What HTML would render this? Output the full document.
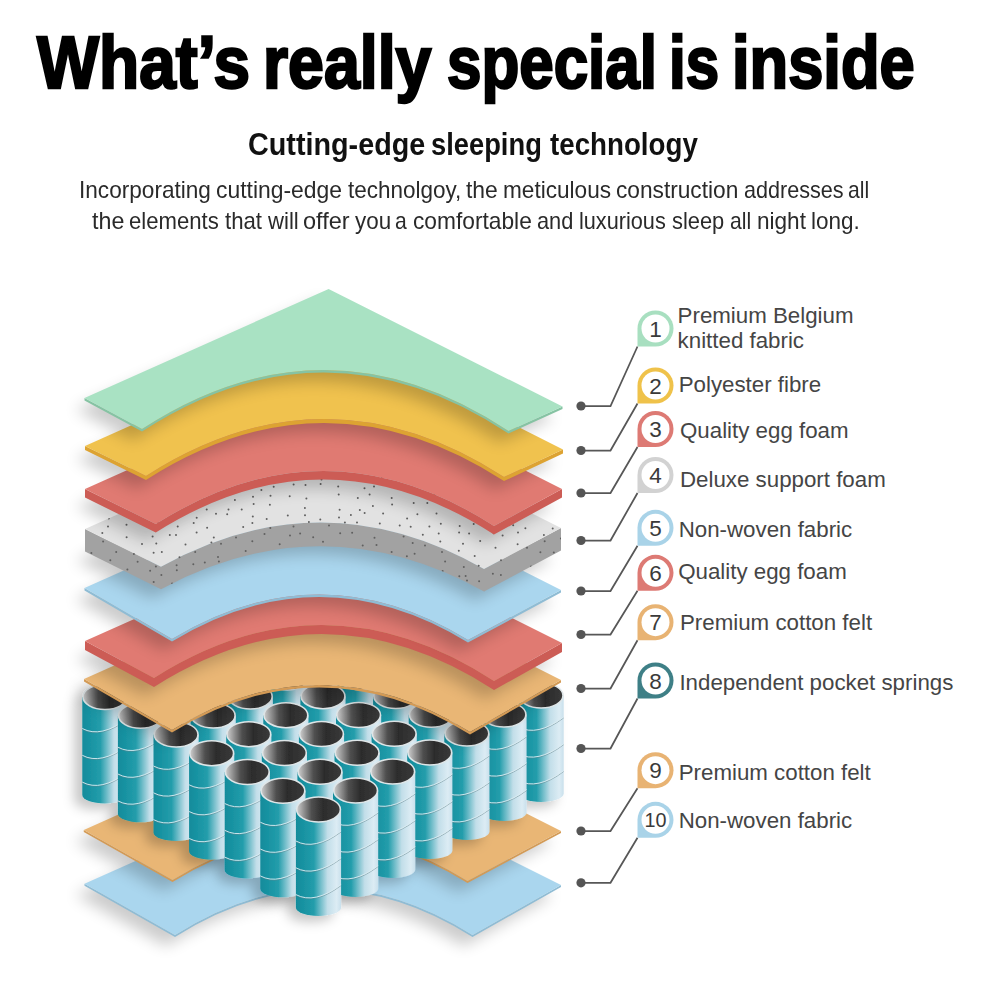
<!DOCTYPE html>
<html><head><meta charset="utf-8">
<style>
html,body{margin:0;padding:0;background:#fff;}
body{width:1000px;height:1000px;position:relative;overflow:hidden;font-family:"Liberation Sans",sans-serif;}
.t{position:absolute;white-space:nowrap;transform-origin:0 0;line-height:1;}
.tw{top:26.35px;font-size:73.5px;font-weight:bold;color:#000;-webkit-text-stroke:2.5px #000;}
.sw{top:128.2px;font-size:32px;font-weight:bold;color:#111;}
.bw{font-size:24px;color:#2a2a2a;}
</style></head><body>
<div class="t tw" style="left:36.91px;transform:scaleX(0.8945)">What’s</div><div class="t tw" style="left:263.31px;transform:scaleX(0.8769)">really</div><div class="t tw" style="left:446.64px;transform:scaleX(0.8423)">special</div><div class="t tw" style="left:669.17px;transform:scaleX(0.8163)">is</div><div class="t tw" style="left:731.99px;transform:scaleX(0.8602)">inside</div>
<div class="t sw" style="left:248.07px;transform:scaleX(0.8985)">Cutting-edge</div><div class="t sw" style="left:431.12px;transform:scaleX(0.8538)">sleeping</div><div class="t sw" style="left:550.00px;transform:scaleX(0.8660)">technology</div>
<div class="t bw" style="left:79.12px;top:177.9px;transform:scaleX(0.9416)">Incorporating</div><div class="t bw" style="left:216.05px;top:177.9px;transform:scaleX(0.9538)">cutting-edge</div><div class="t bw" style="left:347.50px;top:177.9px;transform:scaleX(0.9370)">technolgoy,</div><div class="t bw" style="left:466.00px;top:177.9px;transform:scaleX(0.9531)">the</div><div class="t bw" style="left:502.62px;top:177.9px;transform:scaleX(0.9420)">meticulous</div><div class="t bw" style="left:616.06px;top:177.9px;transform:scaleX(0.9449)">construction</div><div class="t bw" style="left:743.60px;top:177.9px;transform:scaleX(0.8991)">addresses</div><div class="t bw" style="left:848.44px;top:177.9px;transform:scaleX(0.8800)">all</div><div class="t bw" style="left:91.50px;top:209.2px;transform:scaleX(0.9688)">the</div><div class="t bw" style="left:128.58px;top:209.2px;transform:scaleX(0.9219)">elements</div><div class="t bw" style="left:225.00px;top:209.2px;transform:scaleX(0.9250)">that</div><div class="t bw" style="left:267.50px;top:209.2px;transform:scaleX(0.9219)">will</div><div class="t bw" style="left:302.52px;top:209.2px;transform:scaleX(0.9783)">offer</div><div class="t bw" style="left:354.50px;top:209.2px;transform:scaleX(0.9324)">you</div><div class="t bw" style="left:394.65px;top:209.2px;transform:scaleX(0.8800)">a</div><div class="t bw" style="left:413.05px;top:209.2px;transform:scaleX(0.9472)">comfortable</div><div class="t bw" style="left:537.09px;top:209.2px;transform:scaleX(0.9079)">and</div><div class="t bw" style="left:578.69px;top:209.2px;transform:scaleX(0.9032)">luxurious</div><div class="t bw" style="left:671.59px;top:209.2px;transform:scaleX(0.9107)">sleep</div><div class="t bw" style="left:730.44px;top:209.2px;transform:scaleX(0.8800)">all</div><div class="t bw" style="left:757.12px;top:209.2px;transform:scaleX(0.9400)">night</div><div class="t bw" style="left:811.12px;top:209.2px;transform:scaleX(0.9375)">long.</div>
<svg width="1000" height="1000" viewBox="0 0 1000 1000" style="position:absolute;left:0;top:0">
<defs>
 <filter id="sh" x="-20%" y="-20%" width="140%" height="160%">
  <feGaussianBlur stdDeviation="7.5"/><feOffset dx="-9" dy="9"/>
 </filter>
 <filter id="shs" x="-20%" y="-20%" width="140%" height="140%">
  <feDropShadow dx="-8" dy="6" stdDeviation="6" flood-color="#000" flood-opacity="0.22"/>
 </filter>
 <linearGradient id="gBody" x1="0" x2="1" y1="0" y2="0">
  <stop offset="0" stop-color="#118b9b"/>
  <stop offset="0.4" stop-color="#239dab"/>
  <stop offset="0.7" stop-color="#c2dee9"/>
  <stop offset="0.9" stop-color="#dcecf4"/>
  <stop offset="1" stop-color="#c9e0ec"/>
 </linearGradient>
 <linearGradient id="gIn" x1="0" x2="1" y1="0" y2="0">
  <stop offset="0" stop-color="#d0d0d0"/>
  <stop offset="0.14" stop-color="#9a9a9a"/>
  <stop offset="0.34" stop-color="#505050"/>
  <stop offset="0.6" stop-color="#2c2c2c"/>
  <stop offset="1" stop-color="#3a3a3a"/>
 </linearGradient>
 <clipPath id="grayclip">
  <path d="M85.0,529.0 L338.0,416.0 L561.0,528.0 L484.0,569.0 Q322.5,477.1 161.0,566.7 Z"/>
  <path d="M85.0,551.5 L338.0,438.5 L561.0,550.5 L484.0,591.5 Q322.5,499.6 161.0,589.2 Z"/>
  <path d="M85.0,529.0 L85.0,551.5 L161.0,589.2 Q322.5,502.4 484.0,591.5 L561.0,550.5 L561.0,528.0 L484.0,569.0 Q322.5,477.1 161.0,566.7 Z"/>
 </clipPath>
</defs>
<path d="M84.5,885.8 L335.4,773.7 L561.0,887.0 L472.5,937.0 Q323.8,843.0 175.0,937.0 Z" fill="#000" opacity="0.2" filter="url(#sh)"/>
<path d="M84.5,883.8 L84.5,885.8 L175.0,937.0 Q323.8,843.0 472.5,937.0 L561.0,887.0 L561.0,885.0 L472.5,935.0 Q323.8,841.0 175.0,935.0 Z" fill="#8fbcd4"/>
<path d="M84.5,883.8 L335.4,771.7 L561.0,885.0 L472.5,935.0 Q323.8,841.0 175.0,935.0 Z" fill="#aad6ee"/>
<path d="M83.8,832.0 L335.4,719.6 L561.0,833.0 L467.5,883.0 Q320.0,791.5 172.5,882.0 Z" fill="#000" opacity="0.2" filter="url(#sh)"/>
<path d="M83.8,830.0 L83.8,832.0 L172.5,882.0 Q320.0,791.5 467.5,883.0 L561.0,833.0 L561.0,831.0 L467.5,881.0 Q320.0,789.5 172.5,880.0 Z" fill="#d39a55"/>
<path d="M83.8,830.0 L335.4,717.6 L561.0,831.0 L467.5,881.0 Q320.0,789.5 172.5,880.0 Z" fill="#e9b675"/>
<g filter="url(#shs)"><path d="M304.9,583.0 L304.9,681.0 A22.6,8.5 0 0 0 350.1,681.0 L350.1,583.0 Z" fill="url(#gBody)"/><path d="M304.9,615.4 Q323.5,625.4 350.1,605.4" fill="none" stroke="#5f7f88" stroke-opacity="0.5" stroke-width="1"/><path d="M304.9,614.5 Q323.5,624.5 350.1,604.5" fill="none" stroke="#dcecf2" stroke-opacity="0.9" stroke-width="1"/><path d="M304.9,642.2 Q323.5,652.2 350.1,632.2" fill="none" stroke="#5f7f88" stroke-opacity="0.5" stroke-width="1"/><path d="M304.9,641.3 Q323.5,651.3 350.1,631.3" fill="none" stroke="#dcecf2" stroke-opacity="0.9" stroke-width="1"/><path d="M304.9,669.0 Q323.5,679.0 350.1,659.0" fill="none" stroke="#5f7f88" stroke-opacity="0.5" stroke-width="1"/><path d="M304.9,668.1 Q323.5,678.1 350.1,658.1" fill="none" stroke="#dcecf2" stroke-opacity="0.9" stroke-width="1"/><ellipse cx="327.5" cy="583.0" rx="21.900000000000002" ry="12.5" fill="url(#gIn)" stroke="#dfe6e8" stroke-width="1.6"/>
<path d="M340.5,601.8 L340.5,699.8 A22.6,8.5 0 0 0 385.7,699.8 L385.7,601.8 Z" fill="url(#gBody)"/><path d="M340.5,634.1 Q359.1,644.1 385.7,624.1" fill="none" stroke="#5f7f88" stroke-opacity="0.5" stroke-width="1"/><path d="M340.5,633.2 Q359.1,643.2 385.7,623.2" fill="none" stroke="#dcecf2" stroke-opacity="0.9" stroke-width="1"/><path d="M340.5,660.9 Q359.1,670.9 385.7,650.9" fill="none" stroke="#5f7f88" stroke-opacity="0.5" stroke-width="1"/><path d="M340.5,660.0 Q359.1,670.0 385.7,650.0" fill="none" stroke="#dcecf2" stroke-opacity="0.9" stroke-width="1"/><path d="M340.5,687.8 Q359.1,697.8 385.7,677.8" fill="none" stroke="#5f7f88" stroke-opacity="0.5" stroke-width="1"/><path d="M340.5,686.9 Q359.1,696.9 385.7,676.9" fill="none" stroke="#dcecf2" stroke-opacity="0.9" stroke-width="1"/><ellipse cx="363.1" cy="601.8" rx="21.900000000000002" ry="12.5" fill="url(#gIn)" stroke="#dfe6e8" stroke-width="1.6"/>
<path d="M267.8,602.0 L267.8,700.0 A22.6,8.5 0 0 0 313.0,700.0 L313.0,602.0 Z" fill="url(#gBody)"/><path d="M267.8,634.4 Q286.4,644.4 313.0,624.4" fill="none" stroke="#5f7f88" stroke-opacity="0.5" stroke-width="1"/><path d="M267.8,633.5 Q286.4,643.5 313.0,623.5" fill="none" stroke="#dcecf2" stroke-opacity="0.9" stroke-width="1"/><path d="M267.8,661.2 Q286.4,671.2 313.0,651.2" fill="none" stroke="#5f7f88" stroke-opacity="0.5" stroke-width="1"/><path d="M267.8,660.3 Q286.4,670.3 313.0,650.3" fill="none" stroke="#dcecf2" stroke-opacity="0.9" stroke-width="1"/><path d="M267.8,688.0 Q286.4,698.0 313.0,678.0" fill="none" stroke="#5f7f88" stroke-opacity="0.5" stroke-width="1"/><path d="M267.8,687.1 Q286.4,697.1 313.0,677.1" fill="none" stroke="#dcecf2" stroke-opacity="0.9" stroke-width="1"/><ellipse cx="290.4" cy="602.0" rx="21.900000000000002" ry="12.5" fill="url(#gIn)" stroke="#dfe6e8" stroke-width="1.6"/>
<path d="M376.1,620.5 L376.1,718.5 A22.6,8.5 0 0 0 421.3,718.5 L421.3,620.5 Z" fill="url(#gBody)"/><path d="M376.1,652.9 Q394.7,662.9 421.3,642.9" fill="none" stroke="#5f7f88" stroke-opacity="0.5" stroke-width="1"/><path d="M376.1,652.0 Q394.7,662.0 421.3,642.0" fill="none" stroke="#dcecf2" stroke-opacity="0.9" stroke-width="1"/><path d="M376.1,679.7 Q394.7,689.7 421.3,669.7" fill="none" stroke="#5f7f88" stroke-opacity="0.5" stroke-width="1"/><path d="M376.1,678.8 Q394.7,688.8 421.3,668.8" fill="none" stroke="#dcecf2" stroke-opacity="0.9" stroke-width="1"/><path d="M376.1,706.5 Q394.7,716.5 421.3,696.5" fill="none" stroke="#5f7f88" stroke-opacity="0.5" stroke-width="1"/><path d="M376.1,705.6 Q394.7,715.6 421.3,695.6" fill="none" stroke="#dcecf2" stroke-opacity="0.9" stroke-width="1"/><ellipse cx="398.7" cy="620.5" rx="21.900000000000002" ry="12.5" fill="url(#gIn)" stroke="#dfe6e8" stroke-width="1.6"/>
<path d="M303.4,620.8 L303.4,718.8 A22.6,8.5 0 0 0 348.6,718.8 L348.6,620.8 Z" fill="url(#gBody)"/><path d="M303.4,653.1 Q322.0,663.1 348.6,643.1" fill="none" stroke="#5f7f88" stroke-opacity="0.5" stroke-width="1"/><path d="M303.4,652.2 Q322.0,662.2 348.6,642.2" fill="none" stroke="#dcecf2" stroke-opacity="0.9" stroke-width="1"/><path d="M303.4,679.9 Q322.0,689.9 348.6,669.9" fill="none" stroke="#5f7f88" stroke-opacity="0.5" stroke-width="1"/><path d="M303.4,679.0 Q322.0,689.0 348.6,669.0" fill="none" stroke="#dcecf2" stroke-opacity="0.9" stroke-width="1"/><path d="M303.4,706.8 Q322.0,716.8 348.6,696.8" fill="none" stroke="#5f7f88" stroke-opacity="0.5" stroke-width="1"/><path d="M303.4,705.9 Q322.0,715.9 348.6,695.9" fill="none" stroke="#dcecf2" stroke-opacity="0.9" stroke-width="1"/><ellipse cx="326.0" cy="620.8" rx="21.900000000000002" ry="12.5" fill="url(#gIn)" stroke="#dfe6e8" stroke-width="1.6"/>
<path d="M230.7,621.0 L230.7,719.0 A22.6,8.5 0 0 0 275.9,719.0 L275.9,621.0 Z" fill="url(#gBody)"/><path d="M230.7,653.4 Q249.3,663.4 275.9,643.4" fill="none" stroke="#5f7f88" stroke-opacity="0.5" stroke-width="1"/><path d="M230.7,652.5 Q249.3,662.5 275.9,642.5" fill="none" stroke="#dcecf2" stroke-opacity="0.9" stroke-width="1"/><path d="M230.7,680.2 Q249.3,690.2 275.9,670.2" fill="none" stroke="#5f7f88" stroke-opacity="0.5" stroke-width="1"/><path d="M230.7,679.3 Q249.3,689.3 275.9,669.3" fill="none" stroke="#dcecf2" stroke-opacity="0.9" stroke-width="1"/><path d="M230.7,707.0 Q249.3,717.0 275.9,697.0" fill="none" stroke="#5f7f88" stroke-opacity="0.5" stroke-width="1"/><path d="M230.7,706.1 Q249.3,716.1 275.9,696.1" fill="none" stroke="#dcecf2" stroke-opacity="0.9" stroke-width="1"/><ellipse cx="253.3" cy="621.0" rx="21.900000000000002" ry="12.5" fill="url(#gIn)" stroke="#dfe6e8" stroke-width="1.6"/>
<path d="M411.7,639.2 L411.7,737.2 A22.6,8.5 0 0 0 456.9,737.2 L456.9,639.2 Z" fill="url(#gBody)"/><path d="M411.7,671.6 Q430.3,681.6 456.9,661.6" fill="none" stroke="#5f7f88" stroke-opacity="0.5" stroke-width="1"/><path d="M411.7,670.8 Q430.3,680.8 456.9,660.8" fill="none" stroke="#dcecf2" stroke-opacity="0.9" stroke-width="1"/><path d="M411.7,698.4 Q430.3,708.4 456.9,688.4" fill="none" stroke="#5f7f88" stroke-opacity="0.5" stroke-width="1"/><path d="M411.7,697.5 Q430.3,707.5 456.9,687.5" fill="none" stroke="#dcecf2" stroke-opacity="0.9" stroke-width="1"/><path d="M411.7,725.2 Q430.3,735.2 456.9,715.2" fill="none" stroke="#5f7f88" stroke-opacity="0.5" stroke-width="1"/><path d="M411.7,724.4 Q430.3,734.4 456.9,714.4" fill="none" stroke="#dcecf2" stroke-opacity="0.9" stroke-width="1"/><ellipse cx="434.3" cy="639.2" rx="21.900000000000002" ry="12.5" fill="url(#gIn)" stroke="#dfe6e8" stroke-width="1.6"/>
<path d="M339.0,639.5 L339.0,737.5 A22.6,8.5 0 0 0 384.2,737.5 L384.2,639.5 Z" fill="url(#gBody)"/><path d="M339.0,671.9 Q357.6,681.9 384.2,661.9" fill="none" stroke="#5f7f88" stroke-opacity="0.5" stroke-width="1"/><path d="M339.0,671.0 Q357.6,681.0 384.2,661.0" fill="none" stroke="#dcecf2" stroke-opacity="0.9" stroke-width="1"/><path d="M339.0,698.7 Q357.6,708.7 384.2,688.7" fill="none" stroke="#5f7f88" stroke-opacity="0.5" stroke-width="1"/><path d="M339.0,697.8 Q357.6,707.8 384.2,687.8" fill="none" stroke="#dcecf2" stroke-opacity="0.9" stroke-width="1"/><path d="M339.0,725.5 Q357.6,735.5 384.2,715.5" fill="none" stroke="#5f7f88" stroke-opacity="0.5" stroke-width="1"/><path d="M339.0,724.6 Q357.6,734.6 384.2,714.6" fill="none" stroke="#dcecf2" stroke-opacity="0.9" stroke-width="1"/><ellipse cx="361.6" cy="639.5" rx="21.900000000000002" ry="12.5" fill="url(#gIn)" stroke="#dfe6e8" stroke-width="1.6"/>
<path d="M266.3,639.8 L266.3,737.8 A22.6,8.5 0 0 0 311.5,737.8 L311.5,639.8 Z" fill="url(#gBody)"/><path d="M266.3,672.1 Q284.9,682.1 311.5,662.1" fill="none" stroke="#5f7f88" stroke-opacity="0.5" stroke-width="1"/><path d="M266.3,671.2 Q284.9,681.2 311.5,661.2" fill="none" stroke="#dcecf2" stroke-opacity="0.9" stroke-width="1"/><path d="M266.3,698.9 Q284.9,708.9 311.5,688.9" fill="none" stroke="#5f7f88" stroke-opacity="0.5" stroke-width="1"/><path d="M266.3,698.0 Q284.9,708.0 311.5,688.0" fill="none" stroke="#dcecf2" stroke-opacity="0.9" stroke-width="1"/><path d="M266.3,725.8 Q284.9,735.8 311.5,715.8" fill="none" stroke="#5f7f88" stroke-opacity="0.5" stroke-width="1"/><path d="M266.3,724.9 Q284.9,734.9 311.5,714.9" fill="none" stroke="#dcecf2" stroke-opacity="0.9" stroke-width="1"/><ellipse cx="288.9" cy="639.8" rx="21.900000000000002" ry="12.5" fill="url(#gIn)" stroke="#dfe6e8" stroke-width="1.6"/>
<path d="M193.6,640.0 L193.6,738.0 A22.6,8.5 0 0 0 238.8,738.0 L238.8,640.0 Z" fill="url(#gBody)"/><path d="M193.6,672.4 Q212.2,682.4 238.8,662.4" fill="none" stroke="#5f7f88" stroke-opacity="0.5" stroke-width="1"/><path d="M193.6,671.5 Q212.2,681.5 238.8,661.5" fill="none" stroke="#dcecf2" stroke-opacity="0.9" stroke-width="1"/><path d="M193.6,699.2 Q212.2,709.2 238.8,689.2" fill="none" stroke="#5f7f88" stroke-opacity="0.5" stroke-width="1"/><path d="M193.6,698.3 Q212.2,708.3 238.8,688.3" fill="none" stroke="#dcecf2" stroke-opacity="0.9" stroke-width="1"/><path d="M193.6,726.0 Q212.2,736.0 238.8,716.0" fill="none" stroke="#5f7f88" stroke-opacity="0.5" stroke-width="1"/><path d="M193.6,725.1 Q212.2,735.1 238.8,715.1" fill="none" stroke="#dcecf2" stroke-opacity="0.9" stroke-width="1"/><ellipse cx="216.2" cy="640.0" rx="21.900000000000002" ry="12.5" fill="url(#gIn)" stroke="#dfe6e8" stroke-width="1.6"/>
<path d="M447.3,658.0 L447.3,756.0 A22.6,8.5 0 0 0 492.5,756.0 L492.5,658.0 Z" fill="url(#gBody)"/><path d="M447.3,690.4 Q465.9,700.4 492.5,680.4" fill="none" stroke="#5f7f88" stroke-opacity="0.5" stroke-width="1"/><path d="M447.3,689.5 Q465.9,699.5 492.5,679.5" fill="none" stroke="#dcecf2" stroke-opacity="0.9" stroke-width="1"/><path d="M447.3,717.2 Q465.9,727.2 492.5,707.2" fill="none" stroke="#5f7f88" stroke-opacity="0.5" stroke-width="1"/><path d="M447.3,716.3 Q465.9,726.3 492.5,706.3" fill="none" stroke="#dcecf2" stroke-opacity="0.9" stroke-width="1"/><path d="M447.3,744.0 Q465.9,754.0 492.5,734.0" fill="none" stroke="#5f7f88" stroke-opacity="0.5" stroke-width="1"/><path d="M447.3,743.1 Q465.9,753.1 492.5,733.1" fill="none" stroke="#dcecf2" stroke-opacity="0.9" stroke-width="1"/><ellipse cx="469.9" cy="658.0" rx="21.900000000000002" ry="12.5" fill="url(#gIn)" stroke="#dfe6e8" stroke-width="1.6"/>
<path d="M374.6,658.2 L374.6,756.2 A22.6,8.5 0 0 0 419.8,756.2 L419.8,658.2 Z" fill="url(#gBody)"/><path d="M374.6,690.6 Q393.2,700.6 419.8,680.6" fill="none" stroke="#5f7f88" stroke-opacity="0.5" stroke-width="1"/><path d="M374.6,689.8 Q393.2,699.8 419.8,679.8" fill="none" stroke="#dcecf2" stroke-opacity="0.9" stroke-width="1"/><path d="M374.6,717.4 Q393.2,727.4 419.8,707.4" fill="none" stroke="#5f7f88" stroke-opacity="0.5" stroke-width="1"/><path d="M374.6,716.5 Q393.2,726.5 419.8,706.5" fill="none" stroke="#dcecf2" stroke-opacity="0.9" stroke-width="1"/><path d="M374.6,744.2 Q393.2,754.2 419.8,734.2" fill="none" stroke="#5f7f88" stroke-opacity="0.5" stroke-width="1"/><path d="M374.6,743.4 Q393.2,753.4 419.8,733.4" fill="none" stroke="#dcecf2" stroke-opacity="0.9" stroke-width="1"/><ellipse cx="397.2" cy="658.2" rx="21.900000000000002" ry="12.5" fill="url(#gIn)" stroke="#dfe6e8" stroke-width="1.6"/>
<path d="M301.9,658.5 L301.9,756.5 A22.6,8.5 0 0 0 347.1,756.5 L347.1,658.5 Z" fill="url(#gBody)"/><path d="M301.9,690.9 Q320.5,700.9 347.1,680.9" fill="none" stroke="#5f7f88" stroke-opacity="0.5" stroke-width="1"/><path d="M301.9,690.0 Q320.5,700.0 347.1,680.0" fill="none" stroke="#dcecf2" stroke-opacity="0.9" stroke-width="1"/><path d="M301.9,717.7 Q320.5,727.7 347.1,707.7" fill="none" stroke="#5f7f88" stroke-opacity="0.5" stroke-width="1"/><path d="M301.9,716.8 Q320.5,726.8 347.1,706.8" fill="none" stroke="#dcecf2" stroke-opacity="0.9" stroke-width="1"/><path d="M301.9,744.5 Q320.5,754.5 347.1,734.5" fill="none" stroke="#5f7f88" stroke-opacity="0.5" stroke-width="1"/><path d="M301.9,743.6 Q320.5,753.6 347.1,733.6" fill="none" stroke="#dcecf2" stroke-opacity="0.9" stroke-width="1"/><ellipse cx="324.5" cy="658.5" rx="21.900000000000002" ry="12.5" fill="url(#gIn)" stroke="#dfe6e8" stroke-width="1.6"/>
<path d="M229.2,658.8 L229.2,756.8 A22.6,8.5 0 0 0 274.4,756.8 L274.4,658.8 Z" fill="url(#gBody)"/><path d="M229.2,691.1 Q247.8,701.1 274.4,681.1" fill="none" stroke="#5f7f88" stroke-opacity="0.5" stroke-width="1"/><path d="M229.2,690.2 Q247.8,700.2 274.4,680.2" fill="none" stroke="#dcecf2" stroke-opacity="0.9" stroke-width="1"/><path d="M229.2,717.9 Q247.8,727.9 274.4,707.9" fill="none" stroke="#5f7f88" stroke-opacity="0.5" stroke-width="1"/><path d="M229.2,717.0 Q247.8,727.0 274.4,707.0" fill="none" stroke="#dcecf2" stroke-opacity="0.9" stroke-width="1"/><path d="M229.2,744.8 Q247.8,754.8 274.4,734.8" fill="none" stroke="#5f7f88" stroke-opacity="0.5" stroke-width="1"/><path d="M229.2,743.9 Q247.8,753.9 274.4,733.9" fill="none" stroke="#dcecf2" stroke-opacity="0.9" stroke-width="1"/><ellipse cx="251.8" cy="658.8" rx="21.900000000000002" ry="12.5" fill="url(#gIn)" stroke="#dfe6e8" stroke-width="1.6"/>
<path d="M156.5,659.0 L156.5,757.0 A22.6,8.5 0 0 0 201.7,757.0 L201.7,659.0 Z" fill="url(#gBody)"/><path d="M156.5,691.4 Q175.1,701.4 201.7,681.4" fill="none" stroke="#5f7f88" stroke-opacity="0.5" stroke-width="1"/><path d="M156.5,690.5 Q175.1,700.5 201.7,680.5" fill="none" stroke="#dcecf2" stroke-opacity="0.9" stroke-width="1"/><path d="M156.5,718.2 Q175.1,728.2 201.7,708.2" fill="none" stroke="#5f7f88" stroke-opacity="0.5" stroke-width="1"/><path d="M156.5,717.3 Q175.1,727.3 201.7,707.3" fill="none" stroke="#dcecf2" stroke-opacity="0.9" stroke-width="1"/><path d="M156.5,745.0 Q175.1,755.0 201.7,735.0" fill="none" stroke="#5f7f88" stroke-opacity="0.5" stroke-width="1"/><path d="M156.5,744.1 Q175.1,754.1 201.7,734.1" fill="none" stroke="#dcecf2" stroke-opacity="0.9" stroke-width="1"/><ellipse cx="179.1" cy="659.0" rx="21.900000000000002" ry="12.5" fill="url(#gIn)" stroke="#dfe6e8" stroke-width="1.6"/>
<path d="M482.9,676.8 L482.9,774.8 A22.6,8.5 0 0 0 528.1,774.8 L528.1,676.8 Z" fill="url(#gBody)"/><path d="M482.9,709.1 Q501.5,719.1 528.1,699.1" fill="none" stroke="#5f7f88" stroke-opacity="0.5" stroke-width="1"/><path d="M482.9,708.2 Q501.5,718.2 528.1,698.2" fill="none" stroke="#dcecf2" stroke-opacity="0.9" stroke-width="1"/><path d="M482.9,735.9 Q501.5,745.9 528.1,725.9" fill="none" stroke="#5f7f88" stroke-opacity="0.5" stroke-width="1"/><path d="M482.9,735.0 Q501.5,745.0 528.1,725.0" fill="none" stroke="#dcecf2" stroke-opacity="0.9" stroke-width="1"/><path d="M482.9,762.8 Q501.5,772.8 528.1,752.8" fill="none" stroke="#5f7f88" stroke-opacity="0.5" stroke-width="1"/><path d="M482.9,761.9 Q501.5,771.9 528.1,751.9" fill="none" stroke="#dcecf2" stroke-opacity="0.9" stroke-width="1"/><ellipse cx="505.5" cy="676.8" rx="21.900000000000002" ry="12.5" fill="url(#gIn)" stroke="#dfe6e8" stroke-width="1.6"/>
<path d="M410.2,677.0 L410.2,775.0 A22.6,8.5 0 0 0 455.4,775.0 L455.4,677.0 Z" fill="url(#gBody)"/><path d="M410.2,709.4 Q428.8,719.4 455.4,699.4" fill="none" stroke="#5f7f88" stroke-opacity="0.5" stroke-width="1"/><path d="M410.2,708.5 Q428.8,718.5 455.4,698.5" fill="none" stroke="#dcecf2" stroke-opacity="0.9" stroke-width="1"/><path d="M410.2,736.2 Q428.8,746.2 455.4,726.2" fill="none" stroke="#5f7f88" stroke-opacity="0.5" stroke-width="1"/><path d="M410.2,735.3 Q428.8,745.3 455.4,725.3" fill="none" stroke="#dcecf2" stroke-opacity="0.9" stroke-width="1"/><path d="M410.2,763.0 Q428.8,773.0 455.4,753.0" fill="none" stroke="#5f7f88" stroke-opacity="0.5" stroke-width="1"/><path d="M410.2,762.1 Q428.8,772.1 455.4,752.1" fill="none" stroke="#dcecf2" stroke-opacity="0.9" stroke-width="1"/><ellipse cx="432.8" cy="677.0" rx="21.900000000000002" ry="12.5" fill="url(#gIn)" stroke="#dfe6e8" stroke-width="1.6"/>
<path d="M337.5,677.2 L337.5,775.2 A22.6,8.5 0 0 0 382.7,775.2 L382.7,677.2 Z" fill="url(#gBody)"/><path d="M337.5,709.6 Q356.1,719.6 382.7,699.6" fill="none" stroke="#5f7f88" stroke-opacity="0.5" stroke-width="1"/><path d="M337.5,708.8 Q356.1,718.8 382.7,698.8" fill="none" stroke="#dcecf2" stroke-opacity="0.9" stroke-width="1"/><path d="M337.5,736.4 Q356.1,746.4 382.7,726.4" fill="none" stroke="#5f7f88" stroke-opacity="0.5" stroke-width="1"/><path d="M337.5,735.5 Q356.1,745.5 382.7,725.5" fill="none" stroke="#dcecf2" stroke-opacity="0.9" stroke-width="1"/><path d="M337.5,763.2 Q356.1,773.2 382.7,753.2" fill="none" stroke="#5f7f88" stroke-opacity="0.5" stroke-width="1"/><path d="M337.5,762.4 Q356.1,772.4 382.7,752.4" fill="none" stroke="#dcecf2" stroke-opacity="0.9" stroke-width="1"/><ellipse cx="360.1" cy="677.2" rx="21.900000000000002" ry="12.5" fill="url(#gIn)" stroke="#dfe6e8" stroke-width="1.6"/>
<path d="M264.8,677.5 L264.8,775.5 A22.6,8.5 0 0 0 310.0,775.5 L310.0,677.5 Z" fill="url(#gBody)"/><path d="M264.8,709.9 Q283.4,719.9 310.0,699.9" fill="none" stroke="#5f7f88" stroke-opacity="0.5" stroke-width="1"/><path d="M264.8,709.0 Q283.4,719.0 310.0,699.0" fill="none" stroke="#dcecf2" stroke-opacity="0.9" stroke-width="1"/><path d="M264.8,736.7 Q283.4,746.7 310.0,726.7" fill="none" stroke="#5f7f88" stroke-opacity="0.5" stroke-width="1"/><path d="M264.8,735.8 Q283.4,745.8 310.0,725.8" fill="none" stroke="#dcecf2" stroke-opacity="0.9" stroke-width="1"/><path d="M264.8,763.5 Q283.4,773.5 310.0,753.5" fill="none" stroke="#5f7f88" stroke-opacity="0.5" stroke-width="1"/><path d="M264.8,762.6 Q283.4,772.6 310.0,752.6" fill="none" stroke="#dcecf2" stroke-opacity="0.9" stroke-width="1"/><ellipse cx="287.4" cy="677.5" rx="21.900000000000002" ry="12.5" fill="url(#gIn)" stroke="#dfe6e8" stroke-width="1.6"/>
<path d="M192.1,677.8 L192.1,775.8 A22.6,8.5 0 0 0 237.3,775.8 L237.3,677.8 Z" fill="url(#gBody)"/><path d="M192.1,710.1 Q210.7,720.1 237.3,700.1" fill="none" stroke="#5f7f88" stroke-opacity="0.5" stroke-width="1"/><path d="M192.1,709.2 Q210.7,719.2 237.3,699.2" fill="none" stroke="#dcecf2" stroke-opacity="0.9" stroke-width="1"/><path d="M192.1,736.9 Q210.7,746.9 237.3,726.9" fill="none" stroke="#5f7f88" stroke-opacity="0.5" stroke-width="1"/><path d="M192.1,736.0 Q210.7,746.0 237.3,726.0" fill="none" stroke="#dcecf2" stroke-opacity="0.9" stroke-width="1"/><path d="M192.1,763.8 Q210.7,773.8 237.3,753.8" fill="none" stroke="#5f7f88" stroke-opacity="0.5" stroke-width="1"/><path d="M192.1,762.9 Q210.7,772.9 237.3,752.9" fill="none" stroke="#dcecf2" stroke-opacity="0.9" stroke-width="1"/><ellipse cx="214.7" cy="677.8" rx="21.900000000000002" ry="12.5" fill="url(#gIn)" stroke="#dfe6e8" stroke-width="1.6"/>
<path d="M119.4,678.0 L119.4,776.0 A22.6,8.5 0 0 0 164.6,776.0 L164.6,678.0 Z" fill="url(#gBody)"/><path d="M119.4,710.4 Q138.0,720.4 164.6,700.4" fill="none" stroke="#5f7f88" stroke-opacity="0.5" stroke-width="1"/><path d="M119.4,709.5 Q138.0,719.5 164.6,699.5" fill="none" stroke="#dcecf2" stroke-opacity="0.9" stroke-width="1"/><path d="M119.4,737.2 Q138.0,747.2 164.6,727.2" fill="none" stroke="#5f7f88" stroke-opacity="0.5" stroke-width="1"/><path d="M119.4,736.3 Q138.0,746.3 164.6,726.3" fill="none" stroke="#dcecf2" stroke-opacity="0.9" stroke-width="1"/><path d="M119.4,764.0 Q138.0,774.0 164.6,754.0" fill="none" stroke="#5f7f88" stroke-opacity="0.5" stroke-width="1"/><path d="M119.4,763.1 Q138.0,773.1 164.6,753.1" fill="none" stroke="#dcecf2" stroke-opacity="0.9" stroke-width="1"/><ellipse cx="142.0" cy="678.0" rx="21.900000000000002" ry="12.5" fill="url(#gIn)" stroke="#dfe6e8" stroke-width="1.6"/>
<path d="M518.5,695.5 L518.5,793.5 A22.6,8.5 0 0 0 563.7,793.5 L563.7,695.5 Z" fill="url(#gBody)"/><path d="M518.5,727.9 Q537.1,737.9 563.7,717.9" fill="none" stroke="#5f7f88" stroke-opacity="0.5" stroke-width="1"/><path d="M518.5,727.0 Q537.1,737.0 563.7,717.0" fill="none" stroke="#dcecf2" stroke-opacity="0.9" stroke-width="1"/><path d="M518.5,754.7 Q537.1,764.7 563.7,744.7" fill="none" stroke="#5f7f88" stroke-opacity="0.5" stroke-width="1"/><path d="M518.5,753.8 Q537.1,763.8 563.7,743.8" fill="none" stroke="#dcecf2" stroke-opacity="0.9" stroke-width="1"/><path d="M518.5,781.5 Q537.1,791.5 563.7,771.5" fill="none" stroke="#5f7f88" stroke-opacity="0.5" stroke-width="1"/><path d="M518.5,780.6 Q537.1,790.6 563.7,770.6" fill="none" stroke="#dcecf2" stroke-opacity="0.9" stroke-width="1"/><ellipse cx="541.1" cy="695.5" rx="21.900000000000002" ry="12.5" fill="url(#gIn)" stroke="#dfe6e8" stroke-width="1.6"/>
<path d="M445.8,695.8 L445.8,793.8 A22.6,8.5 0 0 0 491.0,793.8 L491.0,695.8 Z" fill="url(#gBody)"/><path d="M445.8,728.1 Q464.4,738.1 491.0,718.1" fill="none" stroke="#5f7f88" stroke-opacity="0.5" stroke-width="1"/><path d="M445.8,727.2 Q464.4,737.2 491.0,717.2" fill="none" stroke="#dcecf2" stroke-opacity="0.9" stroke-width="1"/><path d="M445.8,754.9 Q464.4,764.9 491.0,744.9" fill="none" stroke="#5f7f88" stroke-opacity="0.5" stroke-width="1"/><path d="M445.8,754.0 Q464.4,764.0 491.0,744.0" fill="none" stroke="#dcecf2" stroke-opacity="0.9" stroke-width="1"/><path d="M445.8,781.8 Q464.4,791.8 491.0,771.8" fill="none" stroke="#5f7f88" stroke-opacity="0.5" stroke-width="1"/><path d="M445.8,780.9 Q464.4,790.9 491.0,770.9" fill="none" stroke="#dcecf2" stroke-opacity="0.9" stroke-width="1"/><ellipse cx="468.4" cy="695.8" rx="21.900000000000002" ry="12.5" fill="url(#gIn)" stroke="#dfe6e8" stroke-width="1.6"/>
<path d="M373.1,696.0 L373.1,794.0 A22.6,8.5 0 0 0 418.3,794.0 L418.3,696.0 Z" fill="url(#gBody)"/><path d="M373.1,728.4 Q391.7,738.4 418.3,718.4" fill="none" stroke="#5f7f88" stroke-opacity="0.5" stroke-width="1"/><path d="M373.1,727.5 Q391.7,737.5 418.3,717.5" fill="none" stroke="#dcecf2" stroke-opacity="0.9" stroke-width="1"/><path d="M373.1,755.2 Q391.7,765.2 418.3,745.2" fill="none" stroke="#5f7f88" stroke-opacity="0.5" stroke-width="1"/><path d="M373.1,754.3 Q391.7,764.3 418.3,744.3" fill="none" stroke="#dcecf2" stroke-opacity="0.9" stroke-width="1"/><path d="M373.1,782.0 Q391.7,792.0 418.3,772.0" fill="none" stroke="#5f7f88" stroke-opacity="0.5" stroke-width="1"/><path d="M373.1,781.1 Q391.7,791.1 418.3,771.1" fill="none" stroke="#dcecf2" stroke-opacity="0.9" stroke-width="1"/><ellipse cx="395.7" cy="696.0" rx="21.900000000000002" ry="12.5" fill="url(#gIn)" stroke="#dfe6e8" stroke-width="1.6"/>
<path d="M300.4,696.2 L300.4,794.2 A22.6,8.5 0 0 0 345.6,794.2 L345.6,696.2 Z" fill="url(#gBody)"/><path d="M300.4,728.6 Q319.0,738.6 345.6,718.6" fill="none" stroke="#5f7f88" stroke-opacity="0.5" stroke-width="1"/><path d="M300.4,727.8 Q319.0,737.8 345.6,717.8" fill="none" stroke="#dcecf2" stroke-opacity="0.9" stroke-width="1"/><path d="M300.4,755.4 Q319.0,765.4 345.6,745.4" fill="none" stroke="#5f7f88" stroke-opacity="0.5" stroke-width="1"/><path d="M300.4,754.5 Q319.0,764.5 345.6,744.5" fill="none" stroke="#dcecf2" stroke-opacity="0.9" stroke-width="1"/><path d="M300.4,782.2 Q319.0,792.2 345.6,772.2" fill="none" stroke="#5f7f88" stroke-opacity="0.5" stroke-width="1"/><path d="M300.4,781.4 Q319.0,791.4 345.6,771.4" fill="none" stroke="#dcecf2" stroke-opacity="0.9" stroke-width="1"/><ellipse cx="323.0" cy="696.2" rx="21.900000000000002" ry="12.5" fill="url(#gIn)" stroke="#dfe6e8" stroke-width="1.6"/>
<path d="M227.7,696.5 L227.7,794.5 A22.6,8.5 0 0 0 272.9,794.5 L272.9,696.5 Z" fill="url(#gBody)"/><path d="M227.7,728.9 Q246.3,738.9 272.9,718.9" fill="none" stroke="#5f7f88" stroke-opacity="0.5" stroke-width="1"/><path d="M227.7,728.0 Q246.3,738.0 272.9,718.0" fill="none" stroke="#dcecf2" stroke-opacity="0.9" stroke-width="1"/><path d="M227.7,755.7 Q246.3,765.7 272.9,745.7" fill="none" stroke="#5f7f88" stroke-opacity="0.5" stroke-width="1"/><path d="M227.7,754.8 Q246.3,764.8 272.9,744.8" fill="none" stroke="#dcecf2" stroke-opacity="0.9" stroke-width="1"/><path d="M227.7,782.5 Q246.3,792.5 272.9,772.5" fill="none" stroke="#5f7f88" stroke-opacity="0.5" stroke-width="1"/><path d="M227.7,781.6 Q246.3,791.6 272.9,771.6" fill="none" stroke="#dcecf2" stroke-opacity="0.9" stroke-width="1"/><ellipse cx="250.3" cy="696.5" rx="21.900000000000002" ry="12.5" fill="url(#gIn)" stroke="#dfe6e8" stroke-width="1.6"/>
<path d="M155.0,696.8 L155.0,794.8 A22.6,8.5 0 0 0 200.2,794.8 L200.2,696.8 Z" fill="url(#gBody)"/><path d="M155.0,729.1 Q173.6,739.1 200.2,719.1" fill="none" stroke="#5f7f88" stroke-opacity="0.5" stroke-width="1"/><path d="M155.0,728.2 Q173.6,738.2 200.2,718.2" fill="none" stroke="#dcecf2" stroke-opacity="0.9" stroke-width="1"/><path d="M155.0,755.9 Q173.6,765.9 200.2,745.9" fill="none" stroke="#5f7f88" stroke-opacity="0.5" stroke-width="1"/><path d="M155.0,755.0 Q173.6,765.0 200.2,745.0" fill="none" stroke="#dcecf2" stroke-opacity="0.9" stroke-width="1"/><path d="M155.0,782.8 Q173.6,792.8 200.2,772.8" fill="none" stroke="#5f7f88" stroke-opacity="0.5" stroke-width="1"/><path d="M155.0,781.9 Q173.6,791.9 200.2,771.9" fill="none" stroke="#dcecf2" stroke-opacity="0.9" stroke-width="1"/><ellipse cx="177.6" cy="696.8" rx="21.900000000000002" ry="12.5" fill="url(#gIn)" stroke="#dfe6e8" stroke-width="1.6"/>
<path d="M82.3,697.0 L82.3,795.0 A22.6,8.5 0 0 0 127.5,795.0 L127.5,697.0 Z" fill="url(#gBody)"/><path d="M82.3,729.4 Q100.9,739.4 127.5,719.4" fill="none" stroke="#5f7f88" stroke-opacity="0.5" stroke-width="1"/><path d="M82.3,728.5 Q100.9,738.5 127.5,718.5" fill="none" stroke="#dcecf2" stroke-opacity="0.9" stroke-width="1"/><path d="M82.3,756.2 Q100.9,766.2 127.5,746.2" fill="none" stroke="#5f7f88" stroke-opacity="0.5" stroke-width="1"/><path d="M82.3,755.3 Q100.9,765.3 127.5,745.3" fill="none" stroke="#dcecf2" stroke-opacity="0.9" stroke-width="1"/><path d="M82.3,783.0 Q100.9,793.0 127.5,773.0" fill="none" stroke="#5f7f88" stroke-opacity="0.5" stroke-width="1"/><path d="M82.3,782.1 Q100.9,792.1 127.5,772.1" fill="none" stroke="#dcecf2" stroke-opacity="0.9" stroke-width="1"/><ellipse cx="104.9" cy="697.0" rx="21.900000000000002" ry="12.5" fill="url(#gIn)" stroke="#dfe6e8" stroke-width="1.6"/>
<path d="M481.4,714.5 L481.4,812.5 A22.6,8.5 0 0 0 526.6,812.5 L526.6,714.5 Z" fill="url(#gBody)"/><path d="M481.4,746.9 Q500.0,756.9 526.6,736.9" fill="none" stroke="#5f7f88" stroke-opacity="0.5" stroke-width="1"/><path d="M481.4,746.0 Q500.0,756.0 526.6,736.0" fill="none" stroke="#dcecf2" stroke-opacity="0.9" stroke-width="1"/><path d="M481.4,773.7 Q500.0,783.7 526.6,763.7" fill="none" stroke="#5f7f88" stroke-opacity="0.5" stroke-width="1"/><path d="M481.4,772.8 Q500.0,782.8 526.6,762.8" fill="none" stroke="#dcecf2" stroke-opacity="0.9" stroke-width="1"/><path d="M481.4,800.5 Q500.0,810.5 526.6,790.5" fill="none" stroke="#5f7f88" stroke-opacity="0.5" stroke-width="1"/><path d="M481.4,799.6 Q500.0,809.6 526.6,789.6" fill="none" stroke="#dcecf2" stroke-opacity="0.9" stroke-width="1"/><ellipse cx="504.0" cy="714.5" rx="21.900000000000002" ry="12.5" fill="url(#gIn)" stroke="#dfe6e8" stroke-width="1.6"/>
<path d="M408.7,714.8 L408.7,812.8 A22.6,8.5 0 0 0 453.9,812.8 L453.9,714.8 Z" fill="url(#gBody)"/><path d="M408.7,747.1 Q427.3,757.1 453.9,737.1" fill="none" stroke="#5f7f88" stroke-opacity="0.5" stroke-width="1"/><path d="M408.7,746.2 Q427.3,756.2 453.9,736.2" fill="none" stroke="#dcecf2" stroke-opacity="0.9" stroke-width="1"/><path d="M408.7,773.9 Q427.3,783.9 453.9,763.9" fill="none" stroke="#5f7f88" stroke-opacity="0.5" stroke-width="1"/><path d="M408.7,773.0 Q427.3,783.0 453.9,763.0" fill="none" stroke="#dcecf2" stroke-opacity="0.9" stroke-width="1"/><path d="M408.7,800.8 Q427.3,810.8 453.9,790.8" fill="none" stroke="#5f7f88" stroke-opacity="0.5" stroke-width="1"/><path d="M408.7,799.9 Q427.3,809.9 453.9,789.9" fill="none" stroke="#dcecf2" stroke-opacity="0.9" stroke-width="1"/><ellipse cx="431.3" cy="714.8" rx="21.900000000000002" ry="12.5" fill="url(#gIn)" stroke="#dfe6e8" stroke-width="1.6"/>
<path d="M336.0,715.0 L336.0,813.0 A22.6,8.5 0 0 0 381.2,813.0 L381.2,715.0 Z" fill="url(#gBody)"/><path d="M336.0,747.4 Q354.6,757.4 381.2,737.4" fill="none" stroke="#5f7f88" stroke-opacity="0.5" stroke-width="1"/><path d="M336.0,746.5 Q354.6,756.5 381.2,736.5" fill="none" stroke="#dcecf2" stroke-opacity="0.9" stroke-width="1"/><path d="M336.0,774.2 Q354.6,784.2 381.2,764.2" fill="none" stroke="#5f7f88" stroke-opacity="0.5" stroke-width="1"/><path d="M336.0,773.3 Q354.6,783.3 381.2,763.3" fill="none" stroke="#dcecf2" stroke-opacity="0.9" stroke-width="1"/><path d="M336.0,801.0 Q354.6,811.0 381.2,791.0" fill="none" stroke="#5f7f88" stroke-opacity="0.5" stroke-width="1"/><path d="M336.0,800.1 Q354.6,810.1 381.2,790.1" fill="none" stroke="#dcecf2" stroke-opacity="0.9" stroke-width="1"/><ellipse cx="358.6" cy="715.0" rx="21.900000000000002" ry="12.5" fill="url(#gIn)" stroke="#dfe6e8" stroke-width="1.6"/>
<path d="M263.3,715.2 L263.3,813.2 A22.6,8.5 0 0 0 308.5,813.2 L308.5,715.2 Z" fill="url(#gBody)"/><path d="M263.3,747.6 Q281.9,757.6 308.5,737.6" fill="none" stroke="#5f7f88" stroke-opacity="0.5" stroke-width="1"/><path d="M263.3,746.8 Q281.9,756.8 308.5,736.8" fill="none" stroke="#dcecf2" stroke-opacity="0.9" stroke-width="1"/><path d="M263.3,774.4 Q281.9,784.4 308.5,764.4" fill="none" stroke="#5f7f88" stroke-opacity="0.5" stroke-width="1"/><path d="M263.3,773.5 Q281.9,783.5 308.5,763.5" fill="none" stroke="#dcecf2" stroke-opacity="0.9" stroke-width="1"/><path d="M263.3,801.2 Q281.9,811.2 308.5,791.2" fill="none" stroke="#5f7f88" stroke-opacity="0.5" stroke-width="1"/><path d="M263.3,800.4 Q281.9,810.4 308.5,790.4" fill="none" stroke="#dcecf2" stroke-opacity="0.9" stroke-width="1"/><ellipse cx="285.9" cy="715.2" rx="21.900000000000002" ry="12.5" fill="url(#gIn)" stroke="#dfe6e8" stroke-width="1.6"/>
<path d="M190.6,715.5 L190.6,813.5 A22.6,8.5 0 0 0 235.8,813.5 L235.8,715.5 Z" fill="url(#gBody)"/><path d="M190.6,747.9 Q209.2,757.9 235.8,737.9" fill="none" stroke="#5f7f88" stroke-opacity="0.5" stroke-width="1"/><path d="M190.6,747.0 Q209.2,757.0 235.8,737.0" fill="none" stroke="#dcecf2" stroke-opacity="0.9" stroke-width="1"/><path d="M190.6,774.7 Q209.2,784.7 235.8,764.7" fill="none" stroke="#5f7f88" stroke-opacity="0.5" stroke-width="1"/><path d="M190.6,773.8 Q209.2,783.8 235.8,763.8" fill="none" stroke="#dcecf2" stroke-opacity="0.9" stroke-width="1"/><path d="M190.6,801.5 Q209.2,811.5 235.8,791.5" fill="none" stroke="#5f7f88" stroke-opacity="0.5" stroke-width="1"/><path d="M190.6,800.6 Q209.2,810.6 235.8,790.6" fill="none" stroke="#dcecf2" stroke-opacity="0.9" stroke-width="1"/><ellipse cx="213.2" cy="715.5" rx="21.900000000000002" ry="12.5" fill="url(#gIn)" stroke="#dfe6e8" stroke-width="1.6"/>
<path d="M117.9,715.8 L117.9,813.8 A22.6,8.5 0 0 0 163.1,813.8 L163.1,715.8 Z" fill="url(#gBody)"/><path d="M117.9,748.1 Q136.5,758.1 163.1,738.1" fill="none" stroke="#5f7f88" stroke-opacity="0.5" stroke-width="1"/><path d="M117.9,747.2 Q136.5,757.2 163.1,737.2" fill="none" stroke="#dcecf2" stroke-opacity="0.9" stroke-width="1"/><path d="M117.9,774.9 Q136.5,784.9 163.1,764.9" fill="none" stroke="#5f7f88" stroke-opacity="0.5" stroke-width="1"/><path d="M117.9,774.0 Q136.5,784.0 163.1,764.0" fill="none" stroke="#dcecf2" stroke-opacity="0.9" stroke-width="1"/><path d="M117.9,801.8 Q136.5,811.8 163.1,791.8" fill="none" stroke="#5f7f88" stroke-opacity="0.5" stroke-width="1"/><path d="M117.9,800.9 Q136.5,810.9 163.1,790.9" fill="none" stroke="#dcecf2" stroke-opacity="0.9" stroke-width="1"/><ellipse cx="140.5" cy="715.8" rx="21.900000000000002" ry="12.5" fill="url(#gIn)" stroke="#dfe6e8" stroke-width="1.6"/>
<path d="M444.3,733.5 L444.3,831.5 A22.6,8.5 0 0 0 489.5,831.5 L489.5,733.5 Z" fill="url(#gBody)"/><path d="M444.3,765.9 Q462.9,775.9 489.5,755.9" fill="none" stroke="#5f7f88" stroke-opacity="0.5" stroke-width="1"/><path d="M444.3,765.0 Q462.9,775.0 489.5,755.0" fill="none" stroke="#dcecf2" stroke-opacity="0.9" stroke-width="1"/><path d="M444.3,792.7 Q462.9,802.7 489.5,782.7" fill="none" stroke="#5f7f88" stroke-opacity="0.5" stroke-width="1"/><path d="M444.3,791.8 Q462.9,801.8 489.5,781.8" fill="none" stroke="#dcecf2" stroke-opacity="0.9" stroke-width="1"/><path d="M444.3,819.5 Q462.9,829.5 489.5,809.5" fill="none" stroke="#5f7f88" stroke-opacity="0.5" stroke-width="1"/><path d="M444.3,818.6 Q462.9,828.6 489.5,808.6" fill="none" stroke="#dcecf2" stroke-opacity="0.9" stroke-width="1"/><ellipse cx="466.9" cy="733.5" rx="21.900000000000002" ry="12.5" fill="url(#gIn)" stroke="#dfe6e8" stroke-width="1.6"/>
<path d="M371.6,733.8 L371.6,831.8 A22.6,8.5 0 0 0 416.8,831.8 L416.8,733.8 Z" fill="url(#gBody)"/><path d="M371.6,766.1 Q390.2,776.1 416.8,756.1" fill="none" stroke="#5f7f88" stroke-opacity="0.5" stroke-width="1"/><path d="M371.6,765.2 Q390.2,775.2 416.8,755.2" fill="none" stroke="#dcecf2" stroke-opacity="0.9" stroke-width="1"/><path d="M371.6,792.9 Q390.2,802.9 416.8,782.9" fill="none" stroke="#5f7f88" stroke-opacity="0.5" stroke-width="1"/><path d="M371.6,792.0 Q390.2,802.0 416.8,782.0" fill="none" stroke="#dcecf2" stroke-opacity="0.9" stroke-width="1"/><path d="M371.6,819.8 Q390.2,829.8 416.8,809.8" fill="none" stroke="#5f7f88" stroke-opacity="0.5" stroke-width="1"/><path d="M371.6,818.9 Q390.2,828.9 416.8,808.9" fill="none" stroke="#dcecf2" stroke-opacity="0.9" stroke-width="1"/><ellipse cx="394.2" cy="733.8" rx="21.900000000000002" ry="12.5" fill="url(#gIn)" stroke="#dfe6e8" stroke-width="1.6"/>
<path d="M298.9,734.0 L298.9,832.0 A22.6,8.5 0 0 0 344.1,832.0 L344.1,734.0 Z" fill="url(#gBody)"/><path d="M298.9,766.4 Q317.5,776.4 344.1,756.4" fill="none" stroke="#5f7f88" stroke-opacity="0.5" stroke-width="1"/><path d="M298.9,765.5 Q317.5,775.5 344.1,755.5" fill="none" stroke="#dcecf2" stroke-opacity="0.9" stroke-width="1"/><path d="M298.9,793.2 Q317.5,803.2 344.1,783.2" fill="none" stroke="#5f7f88" stroke-opacity="0.5" stroke-width="1"/><path d="M298.9,792.3 Q317.5,802.3 344.1,782.3" fill="none" stroke="#dcecf2" stroke-opacity="0.9" stroke-width="1"/><path d="M298.9,820.0 Q317.5,830.0 344.1,810.0" fill="none" stroke="#5f7f88" stroke-opacity="0.5" stroke-width="1"/><path d="M298.9,819.1 Q317.5,829.1 344.1,809.1" fill="none" stroke="#dcecf2" stroke-opacity="0.9" stroke-width="1"/><ellipse cx="321.5" cy="734.0" rx="21.900000000000002" ry="12.5" fill="url(#gIn)" stroke="#dfe6e8" stroke-width="1.6"/>
<path d="M226.2,734.2 L226.2,832.2 A22.6,8.5 0 0 0 271.4,832.2 L271.4,734.2 Z" fill="url(#gBody)"/><path d="M226.2,766.6 Q244.8,776.6 271.4,756.6" fill="none" stroke="#5f7f88" stroke-opacity="0.5" stroke-width="1"/><path d="M226.2,765.8 Q244.8,775.8 271.4,755.8" fill="none" stroke="#dcecf2" stroke-opacity="0.9" stroke-width="1"/><path d="M226.2,793.4 Q244.8,803.4 271.4,783.4" fill="none" stroke="#5f7f88" stroke-opacity="0.5" stroke-width="1"/><path d="M226.2,792.5 Q244.8,802.5 271.4,782.5" fill="none" stroke="#dcecf2" stroke-opacity="0.9" stroke-width="1"/><path d="M226.2,820.2 Q244.8,830.2 271.4,810.2" fill="none" stroke="#5f7f88" stroke-opacity="0.5" stroke-width="1"/><path d="M226.2,819.4 Q244.8,829.4 271.4,809.4" fill="none" stroke="#dcecf2" stroke-opacity="0.9" stroke-width="1"/><ellipse cx="248.8" cy="734.2" rx="21.900000000000002" ry="12.5" fill="url(#gIn)" stroke="#dfe6e8" stroke-width="1.6"/>
<path d="M153.5,734.5 L153.5,832.5 A22.6,8.5 0 0 0 198.7,832.5 L198.7,734.5 Z" fill="url(#gBody)"/><path d="M153.5,766.9 Q172.1,776.9 198.7,756.9" fill="none" stroke="#5f7f88" stroke-opacity="0.5" stroke-width="1"/><path d="M153.5,766.0 Q172.1,776.0 198.7,756.0" fill="none" stroke="#dcecf2" stroke-opacity="0.9" stroke-width="1"/><path d="M153.5,793.7 Q172.1,803.7 198.7,783.7" fill="none" stroke="#5f7f88" stroke-opacity="0.5" stroke-width="1"/><path d="M153.5,792.8 Q172.1,802.8 198.7,782.8" fill="none" stroke="#dcecf2" stroke-opacity="0.9" stroke-width="1"/><path d="M153.5,820.5 Q172.1,830.5 198.7,810.5" fill="none" stroke="#5f7f88" stroke-opacity="0.5" stroke-width="1"/><path d="M153.5,819.6 Q172.1,829.6 198.7,809.6" fill="none" stroke="#dcecf2" stroke-opacity="0.9" stroke-width="1"/><ellipse cx="176.1" cy="734.5" rx="21.900000000000002" ry="12.5" fill="url(#gIn)" stroke="#dfe6e8" stroke-width="1.6"/>
<path d="M407.2,752.5 L407.2,850.5 A22.6,8.5 0 0 0 452.4,850.5 L452.4,752.5 Z" fill="url(#gBody)"/><path d="M407.2,784.9 Q425.8,794.9 452.4,774.9" fill="none" stroke="#5f7f88" stroke-opacity="0.5" stroke-width="1"/><path d="M407.2,784.0 Q425.8,794.0 452.4,774.0" fill="none" stroke="#dcecf2" stroke-opacity="0.9" stroke-width="1"/><path d="M407.2,811.7 Q425.8,821.7 452.4,801.7" fill="none" stroke="#5f7f88" stroke-opacity="0.5" stroke-width="1"/><path d="M407.2,810.8 Q425.8,820.8 452.4,800.8" fill="none" stroke="#dcecf2" stroke-opacity="0.9" stroke-width="1"/><path d="M407.2,838.5 Q425.8,848.5 452.4,828.5" fill="none" stroke="#5f7f88" stroke-opacity="0.5" stroke-width="1"/><path d="M407.2,837.6 Q425.8,847.6 452.4,827.6" fill="none" stroke="#dcecf2" stroke-opacity="0.9" stroke-width="1"/><ellipse cx="429.8" cy="752.5" rx="21.900000000000002" ry="12.5" fill="url(#gIn)" stroke="#dfe6e8" stroke-width="1.6"/>
<path d="M334.5,752.8 L334.5,850.8 A22.6,8.5 0 0 0 379.7,850.8 L379.7,752.8 Z" fill="url(#gBody)"/><path d="M334.5,785.1 Q353.1,795.1 379.7,775.1" fill="none" stroke="#5f7f88" stroke-opacity="0.5" stroke-width="1"/><path d="M334.5,784.2 Q353.1,794.2 379.7,774.2" fill="none" stroke="#dcecf2" stroke-opacity="0.9" stroke-width="1"/><path d="M334.5,811.9 Q353.1,821.9 379.7,801.9" fill="none" stroke="#5f7f88" stroke-opacity="0.5" stroke-width="1"/><path d="M334.5,811.0 Q353.1,821.0 379.7,801.0" fill="none" stroke="#dcecf2" stroke-opacity="0.9" stroke-width="1"/><path d="M334.5,838.8 Q353.1,848.8 379.7,828.8" fill="none" stroke="#5f7f88" stroke-opacity="0.5" stroke-width="1"/><path d="M334.5,837.9 Q353.1,847.9 379.7,827.9" fill="none" stroke="#dcecf2" stroke-opacity="0.9" stroke-width="1"/><ellipse cx="357.1" cy="752.8" rx="21.900000000000002" ry="12.5" fill="url(#gIn)" stroke="#dfe6e8" stroke-width="1.6"/>
<path d="M261.8,753.0 L261.8,851.0 A22.6,8.5 0 0 0 307.0,851.0 L307.0,753.0 Z" fill="url(#gBody)"/><path d="M261.8,785.4 Q280.4,795.4 307.0,775.4" fill="none" stroke="#5f7f88" stroke-opacity="0.5" stroke-width="1"/><path d="M261.8,784.5 Q280.4,794.5 307.0,774.5" fill="none" stroke="#dcecf2" stroke-opacity="0.9" stroke-width="1"/><path d="M261.8,812.2 Q280.4,822.2 307.0,802.2" fill="none" stroke="#5f7f88" stroke-opacity="0.5" stroke-width="1"/><path d="M261.8,811.3 Q280.4,821.3 307.0,801.3" fill="none" stroke="#dcecf2" stroke-opacity="0.9" stroke-width="1"/><path d="M261.8,839.0 Q280.4,849.0 307.0,829.0" fill="none" stroke="#5f7f88" stroke-opacity="0.5" stroke-width="1"/><path d="M261.8,838.1 Q280.4,848.1 307.0,828.1" fill="none" stroke="#dcecf2" stroke-opacity="0.9" stroke-width="1"/><ellipse cx="284.4" cy="753.0" rx="21.900000000000002" ry="12.5" fill="url(#gIn)" stroke="#dfe6e8" stroke-width="1.6"/>
<path d="M189.1,753.2 L189.1,851.2 A22.6,8.5 0 0 0 234.3,851.2 L234.3,753.2 Z" fill="url(#gBody)"/><path d="M189.1,785.6 Q207.7,795.6 234.3,775.6" fill="none" stroke="#5f7f88" stroke-opacity="0.5" stroke-width="1"/><path d="M189.1,784.8 Q207.7,794.8 234.3,774.8" fill="none" stroke="#dcecf2" stroke-opacity="0.9" stroke-width="1"/><path d="M189.1,812.4 Q207.7,822.4 234.3,802.4" fill="none" stroke="#5f7f88" stroke-opacity="0.5" stroke-width="1"/><path d="M189.1,811.5 Q207.7,821.5 234.3,801.5" fill="none" stroke="#dcecf2" stroke-opacity="0.9" stroke-width="1"/><path d="M189.1,839.2 Q207.7,849.2 234.3,829.2" fill="none" stroke="#5f7f88" stroke-opacity="0.5" stroke-width="1"/><path d="M189.1,838.4 Q207.7,848.4 234.3,828.4" fill="none" stroke="#dcecf2" stroke-opacity="0.9" stroke-width="1"/><ellipse cx="211.7" cy="753.2" rx="21.900000000000002" ry="12.5" fill="url(#gIn)" stroke="#dfe6e8" stroke-width="1.6"/>
<path d="M370.1,771.5 L370.1,869.5 A22.6,8.5 0 0 0 415.3,869.5 L415.3,771.5 Z" fill="url(#gBody)"/><path d="M370.1,803.9 Q388.7,813.9 415.3,793.9" fill="none" stroke="#5f7f88" stroke-opacity="0.5" stroke-width="1"/><path d="M370.1,803.0 Q388.7,813.0 415.3,793.0" fill="none" stroke="#dcecf2" stroke-opacity="0.9" stroke-width="1"/><path d="M370.1,830.7 Q388.7,840.7 415.3,820.7" fill="none" stroke="#5f7f88" stroke-opacity="0.5" stroke-width="1"/><path d="M370.1,829.8 Q388.7,839.8 415.3,819.8" fill="none" stroke="#dcecf2" stroke-opacity="0.9" stroke-width="1"/><path d="M370.1,857.5 Q388.7,867.5 415.3,847.5" fill="none" stroke="#5f7f88" stroke-opacity="0.5" stroke-width="1"/><path d="M370.1,856.6 Q388.7,866.6 415.3,846.6" fill="none" stroke="#dcecf2" stroke-opacity="0.9" stroke-width="1"/><ellipse cx="392.7" cy="771.5" rx="21.900000000000002" ry="12.5" fill="url(#gIn)" stroke="#dfe6e8" stroke-width="1.6"/>
<path d="M297.4,771.8 L297.4,869.8 A22.6,8.5 0 0 0 342.6,869.8 L342.6,771.8 Z" fill="url(#gBody)"/><path d="M297.4,804.1 Q316.0,814.1 342.6,794.1" fill="none" stroke="#5f7f88" stroke-opacity="0.5" stroke-width="1"/><path d="M297.4,803.2 Q316.0,813.2 342.6,793.2" fill="none" stroke="#dcecf2" stroke-opacity="0.9" stroke-width="1"/><path d="M297.4,830.9 Q316.0,840.9 342.6,820.9" fill="none" stroke="#5f7f88" stroke-opacity="0.5" stroke-width="1"/><path d="M297.4,830.0 Q316.0,840.0 342.6,820.0" fill="none" stroke="#dcecf2" stroke-opacity="0.9" stroke-width="1"/><path d="M297.4,857.8 Q316.0,867.8 342.6,847.8" fill="none" stroke="#5f7f88" stroke-opacity="0.5" stroke-width="1"/><path d="M297.4,856.9 Q316.0,866.9 342.6,846.9" fill="none" stroke="#dcecf2" stroke-opacity="0.9" stroke-width="1"/><ellipse cx="320.0" cy="771.8" rx="21.900000000000002" ry="12.5" fill="url(#gIn)" stroke="#dfe6e8" stroke-width="1.6"/>
<path d="M224.7,772.0 L224.7,870.0 A22.6,8.5 0 0 0 269.9,870.0 L269.9,772.0 Z" fill="url(#gBody)"/><path d="M224.7,804.4 Q243.3,814.4 269.9,794.4" fill="none" stroke="#5f7f88" stroke-opacity="0.5" stroke-width="1"/><path d="M224.7,803.5 Q243.3,813.5 269.9,793.5" fill="none" stroke="#dcecf2" stroke-opacity="0.9" stroke-width="1"/><path d="M224.7,831.2 Q243.3,841.2 269.9,821.2" fill="none" stroke="#5f7f88" stroke-opacity="0.5" stroke-width="1"/><path d="M224.7,830.3 Q243.3,840.3 269.9,820.3" fill="none" stroke="#dcecf2" stroke-opacity="0.9" stroke-width="1"/><path d="M224.7,858.0 Q243.3,868.0 269.9,848.0" fill="none" stroke="#5f7f88" stroke-opacity="0.5" stroke-width="1"/><path d="M224.7,857.1 Q243.3,867.1 269.9,847.1" fill="none" stroke="#dcecf2" stroke-opacity="0.9" stroke-width="1"/><ellipse cx="247.3" cy="772.0" rx="21.900000000000002" ry="12.5" fill="url(#gIn)" stroke="#dfe6e8" stroke-width="1.6"/>
<path d="M333.0,790.5 L333.0,888.5 A22.6,8.5 0 0 0 378.2,888.5 L378.2,790.5 Z" fill="url(#gBody)"/><path d="M333.0,822.9 Q351.6,832.9 378.2,812.9" fill="none" stroke="#5f7f88" stroke-opacity="0.5" stroke-width="1"/><path d="M333.0,822.0 Q351.6,832.0 378.2,812.0" fill="none" stroke="#dcecf2" stroke-opacity="0.9" stroke-width="1"/><path d="M333.0,849.7 Q351.6,859.7 378.2,839.7" fill="none" stroke="#5f7f88" stroke-opacity="0.5" stroke-width="1"/><path d="M333.0,848.8 Q351.6,858.8 378.2,838.8" fill="none" stroke="#dcecf2" stroke-opacity="0.9" stroke-width="1"/><path d="M333.0,876.5 Q351.6,886.5 378.2,866.5" fill="none" stroke="#5f7f88" stroke-opacity="0.5" stroke-width="1"/><path d="M333.0,875.6 Q351.6,885.6 378.2,865.6" fill="none" stroke="#dcecf2" stroke-opacity="0.9" stroke-width="1"/><ellipse cx="355.6" cy="790.5" rx="21.900000000000002" ry="12.5" fill="url(#gIn)" stroke="#dfe6e8" stroke-width="1.6"/>
<path d="M260.3,790.8 L260.3,888.8 A22.6,8.5 0 0 0 305.5,888.8 L305.5,790.8 Z" fill="url(#gBody)"/><path d="M260.3,823.1 Q278.9,833.1 305.5,813.1" fill="none" stroke="#5f7f88" stroke-opacity="0.5" stroke-width="1"/><path d="M260.3,822.2 Q278.9,832.2 305.5,812.2" fill="none" stroke="#dcecf2" stroke-opacity="0.9" stroke-width="1"/><path d="M260.3,849.9 Q278.9,859.9 305.5,839.9" fill="none" stroke="#5f7f88" stroke-opacity="0.5" stroke-width="1"/><path d="M260.3,849.0 Q278.9,859.0 305.5,839.0" fill="none" stroke="#dcecf2" stroke-opacity="0.9" stroke-width="1"/><path d="M260.3,876.8 Q278.9,886.8 305.5,866.8" fill="none" stroke="#5f7f88" stroke-opacity="0.5" stroke-width="1"/><path d="M260.3,875.9 Q278.9,885.9 305.5,865.9" fill="none" stroke="#dcecf2" stroke-opacity="0.9" stroke-width="1"/><ellipse cx="282.9" cy="790.8" rx="21.900000000000002" ry="12.5" fill="url(#gIn)" stroke="#dfe6e8" stroke-width="1.6"/>
<path d="M295.9,809.5 L295.9,907.5 A22.6,8.5 0 0 0 341.1,907.5 L341.1,809.5 Z" fill="url(#gBody)"/><path d="M295.9,841.9 Q314.5,851.9 341.1,831.9" fill="none" stroke="#5f7f88" stroke-opacity="0.5" stroke-width="1"/><path d="M295.9,841.0 Q314.5,851.0 341.1,831.0" fill="none" stroke="#dcecf2" stroke-opacity="0.9" stroke-width="1"/><path d="M295.9,868.7 Q314.5,878.7 341.1,858.7" fill="none" stroke="#5f7f88" stroke-opacity="0.5" stroke-width="1"/><path d="M295.9,867.8 Q314.5,877.8 341.1,857.8" fill="none" stroke="#dcecf2" stroke-opacity="0.9" stroke-width="1"/><path d="M295.9,895.5 Q314.5,905.5 341.1,885.5" fill="none" stroke="#5f7f88" stroke-opacity="0.5" stroke-width="1"/><path d="M295.9,894.6 Q314.5,904.6 341.1,884.6" fill="none" stroke="#dcecf2" stroke-opacity="0.9" stroke-width="1"/><ellipse cx="318.5" cy="809.5" rx="21.900000000000002" ry="12.5" fill="url(#gIn)" stroke="#dfe6e8" stroke-width="1.6"/></g>
<path d="M84.0,681.5 L335.5,569.2 L561.0,682.5 L470.0,734.5 Q321.0,641.5 172.0,732.5 Z" fill="#000" opacity="0.2" filter="url(#sh)"/>
<path d="M84.0,679.0 L84.0,681.5 L172.0,732.5 Q321.0,641.5 470.0,734.5 L561.0,682.5 L561.0,680.0 L470.0,732.0 Q321.0,639.0 172.0,730.0 Z" fill="#d39a55"/>
<path d="M84.0,679.0 L335.5,566.7 L561.0,680.0 L470.0,732.0 Q321.0,639.0 172.0,730.0 Z" fill="#e9b675"/>
<path d="M85.0,650.0 L335.4,538.2 L562.0,652.0 L494.0,690.0 Q324.0,579.5 154.0,687.0 Z" fill="#000" opacity="0.2" filter="url(#sh)"/>
<path d="M85.0,641.0 L85.0,650.0 L154.0,687.0 Q324.0,579.5 494.0,690.0 L562.0,652.0 L562.0,643.0 L494.0,681.0 Q324.0,570.5 154.0,678.0 Z" fill="#cc5c55"/>
<path d="M85.0,641.0 L335.4,529.2 L562.0,643.0 L494.0,681.0 Q324.0,570.5 154.0,678.0 Z" fill="#e07a72"/>
<path d="M84.5,590.5 L334.7,478.8 L561.0,592.5 L468.0,642.5 Q320.0,552.0 172.0,641.5 Z" fill="#000" opacity="0.2" filter="url(#sh)"/>
<path d="M84.5,588.0 L84.5,590.5 L172.0,641.5 Q320.0,552.0 468.0,642.5 L561.0,592.5 L561.0,590.0 L468.0,640.0 Q320.0,549.5 172.0,639.0 Z" fill="#8fbcd4"/>
<path d="M84.5,588.0 L334.7,476.3 L561.0,590.0 L468.0,640.0 Q320.0,549.5 172.0,639.0 Z" fill="#aad6ee"/>
<path d="M85.0,551.5 L338.0,438.5 L561.0,550.5 L484.0,591.5 Q322.5,499.6 161.0,589.2 Z" fill="#000" opacity="0.2" filter="url(#sh)"/>
<path d="M85.0,529.0 L85.0,551.5 L161.0,589.2 Q322.5,502.4 484.0,591.5 L561.0,550.5 L561.0,528.0 L484.0,569.0 Q322.5,477.1 161.0,566.7 Z" fill="#a2a2a2"/>
<path d="M85.0,529.0 L338.0,416.0 L561.0,528.0 L484.0,569.0 Q322.5,477.1 161.0,566.7 Z" fill="#e2e2e2"/>
<g fill="#606060" clip-path="url(#grayclip)"><circle cx="77.9" cy="475.6" r="1.0"/><circle cx="91.9" cy="478.3" r="1.0"/><circle cx="108.7" cy="478.1" r="1.0"/><circle cx="130.2" cy="475.0" r="1.0"/><circle cx="147.1" cy="480.3" r="1.0"/><circle cx="193.6" cy="480.5" r="1.0"/><circle cx="211.7" cy="475.3" r="1.0"/><circle cx="236.8" cy="475.8" r="1.0"/><circle cx="251.7" cy="477.1" r="1.0"/><circle cx="261.8" cy="474.9" r="1.0"/><circle cx="286.2" cy="477.5" r="1.0"/><circle cx="302.0" cy="477.7" r="1.0"/><circle cx="321.5" cy="479.4" r="1.0"/><circle cx="364.4" cy="477.4" r="1.0"/><circle cx="381.8" cy="477.9" r="1.0"/><circle cx="405.0" cy="479.9" r="1.0"/><circle cx="424.5" cy="476.7" r="1.0"/><circle cx="438.1" cy="478.6" r="1.0"/><circle cx="458.1" cy="481.1" r="1.0"/><circle cx="473.0" cy="474.9" r="1.0"/><circle cx="489.8" cy="481.5" r="1.0"/><circle cx="502.4" cy="477.2" r="1.0"/><circle cx="516.3" cy="477.7" r="1.0"/><circle cx="534.4" cy="474.9" r="1.0"/><circle cx="551.6" cy="476.2" r="1.0"/><circle cx="92.5" cy="484.6" r="1.0"/><circle cx="105.6" cy="490.2" r="1.0"/><circle cx="126.4" cy="485.9" r="1.0"/><circle cx="151.8" cy="485.2" r="1.0"/><circle cx="169.8" cy="487.4" r="1.0"/><circle cx="187.2" cy="484.0" r="1.0"/><circle cx="226.3" cy="487.6" r="1.0"/><circle cx="261.4" cy="490.1" r="1.0"/><circle cx="273.7" cy="486.8" r="1.0"/><circle cx="293.6" cy="484.4" r="1.0"/><circle cx="305.5" cy="485.1" r="1.0"/><circle cx="320.6" cy="484.0" r="1.0"/><circle cx="338.2" cy="486.5" r="1.0"/><circle cx="364.5" cy="488.3" r="1.0"/><circle cx="374.0" cy="486.4" r="1.0"/><circle cx="410.6" cy="487.4" r="1.0"/><circle cx="423.2" cy="486.4" r="1.0"/><circle cx="448.9" cy="485.1" r="1.0"/><circle cx="467.4" cy="487.7" r="1.0"/><circle cx="479.5" cy="484.2" r="1.0"/><circle cx="501.7" cy="490.0" r="1.0"/><circle cx="510.1" cy="486.6" r="1.0"/><circle cx="533.3" cy="487.7" r="1.0"/><circle cx="545.0" cy="485.6" r="1.0"/><circle cx="569.8" cy="490.0" r="1.0"/><circle cx="83.8" cy="498.7" r="1.0"/><circle cx="97.2" cy="496.0" r="1.0"/><circle cx="108.3" cy="495.5" r="1.0"/><circle cx="133.3" cy="500.2" r="1.0"/><circle cx="163.4" cy="495.0" r="1.0"/><circle cx="178.4" cy="494.9" r="1.0"/><circle cx="203.8" cy="499.4" r="1.0"/><circle cx="217.8" cy="499.1" r="1.0"/><circle cx="234.9" cy="499.9" r="1.0"/><circle cx="253.0" cy="496.8" r="1.0"/><circle cx="270.5" cy="495.8" r="1.0"/><circle cx="289.7" cy="496.3" r="1.0"/><circle cx="306.4" cy="498.6" r="1.0"/><circle cx="338.7" cy="494.5" r="1.0"/><circle cx="357.8" cy="498.1" r="1.0"/><circle cx="369.6" cy="494.4" r="1.0"/><circle cx="391.7" cy="498.0" r="1.0"/><circle cx="423.9" cy="495.0" r="1.0"/><circle cx="434.5" cy="495.2" r="1.0"/><circle cx="451.1" cy="496.4" r="1.0"/><circle cx="475.9" cy="496.0" r="1.0"/><circle cx="489.0" cy="499.8" r="1.0"/><circle cx="510.0" cy="497.0" r="1.0"/><circle cx="522.3" cy="493.6" r="1.0"/><circle cx="535.2" cy="493.5" r="1.0"/><circle cx="552.1" cy="496.8" r="1.0"/><circle cx="88.7" cy="505.3" r="1.0"/><circle cx="105.7" cy="508.5" r="1.0"/><circle cx="122.7" cy="504.7" r="1.0"/><circle cx="142.3" cy="506.6" r="1.0"/><circle cx="159.1" cy="509.4" r="1.0"/><circle cx="174.4" cy="506.5" r="1.0"/><circle cx="192.3" cy="506.2" r="1.0"/><circle cx="206.7" cy="509.6" r="1.0"/><circle cx="228.5" cy="509.6" r="1.0"/><circle cx="241.7" cy="509.6" r="1.0"/><circle cx="253.6" cy="503.9" r="1.0"/><circle cx="269.9" cy="504.7" r="1.0"/><circle cx="304.9" cy="508.0" r="1.0"/><circle cx="339.6" cy="509.7" r="1.0"/><circle cx="359.8" cy="509.9" r="1.0"/><circle cx="372.9" cy="506.0" r="1.0"/><circle cx="392.1" cy="504.4" r="1.0"/><circle cx="413.7" cy="503.1" r="1.0"/><circle cx="427.3" cy="503.1" r="1.0"/><circle cx="446.5" cy="506.6" r="1.0"/><circle cx="474.3" cy="504.9" r="1.0"/><circle cx="499.3" cy="504.9" r="1.0"/><circle cx="512.1" cy="509.4" r="1.0"/><circle cx="547.8" cy="507.9" r="1.0"/><circle cx="558.7" cy="507.8" r="1.0"/><circle cx="74.9" cy="519.1" r="1.0"/><circle cx="108.8" cy="518.5" r="1.0"/><circle cx="145.2" cy="513.4" r="1.0"/><circle cx="161.9" cy="513.3" r="1.0"/><circle cx="176.6" cy="513.9" r="1.0"/><circle cx="196.7" cy="517.8" r="1.0"/><circle cx="216.0" cy="513.7" r="1.0"/><circle cx="227.2" cy="514.3" r="1.0"/><circle cx="252.8" cy="516.4" r="1.0"/><circle cx="266.7" cy="519.0" r="1.0"/><circle cx="287.8" cy="515.5" r="1.0"/><circle cx="305.0" cy="515.3" r="1.0"/><circle cx="320.3" cy="519.4" r="1.0"/><circle cx="339.0" cy="517.4" r="1.0"/><circle cx="350.9" cy="514.9" r="1.0"/><circle cx="364.6" cy="513.0" r="1.0"/><circle cx="383.1" cy="513.6" r="1.0"/><circle cx="407.1" cy="518.6" r="1.0"/><circle cx="417.4" cy="514.2" r="1.0"/><circle cx="436.5" cy="513.6" r="1.0"/><circle cx="485.7" cy="515.0" r="1.0"/><circle cx="503.6" cy="515.8" r="1.0"/><circle cx="518.4" cy="516.0" r="1.0"/><circle cx="536.2" cy="513.1" r="1.0"/><circle cx="550.5" cy="512.7" r="1.0"/><circle cx="84.8" cy="526.1" r="1.0"/><circle cx="108.0" cy="526.6" r="1.0"/><circle cx="126.5" cy="524.7" r="1.0"/><circle cx="144.8" cy="523.0" r="1.0"/><circle cx="157.7" cy="522.3" r="1.0"/><circle cx="177.7" cy="526.4" r="1.0"/><circle cx="193.7" cy="523.0" r="1.0"/><circle cx="207.1" cy="527.8" r="1.0"/><circle cx="243.2" cy="526.9" r="1.0"/><circle cx="252.4" cy="522.9" r="1.0"/><circle cx="270.3" cy="527.9" r="1.0"/><circle cx="293.5" cy="526.4" r="1.0"/><circle cx="308.9" cy="522.0" r="1.0"/><circle cx="329.0" cy="525.5" r="1.0"/><circle cx="344.9" cy="522.5" r="1.0"/><circle cx="357.0" cy="522.5" r="1.0"/><circle cx="379.8" cy="523.4" r="1.0"/><circle cx="399.7" cy="525.5" r="1.0"/><circle cx="410.7" cy="526.8" r="1.0"/><circle cx="429.4" cy="526.5" r="1.0"/><circle cx="440.8" cy="523.8" r="1.0"/><circle cx="459.7" cy="526.0" r="1.0"/><circle cx="473.7" cy="523.9" r="1.0"/><circle cx="498.3" cy="526.7" r="1.0"/><circle cx="513.2" cy="525.3" r="1.0"/><circle cx="525.4" cy="528.3" r="1.0"/><circle cx="552.7" cy="528.6" r="1.0"/><circle cx="79.4" cy="533.4" r="1.0"/><circle cx="102.3" cy="533.0" r="1.0"/><circle cx="126.6" cy="537.2" r="1.0"/><circle cx="152.6" cy="536.4" r="1.0"/><circle cx="169.8" cy="534.9" r="1.0"/><circle cx="176.0" cy="534.9" r="1.0"/><circle cx="196.6" cy="532.5" r="1.0"/><circle cx="213.8" cy="537.4" r="1.0"/><circle cx="236.0" cy="537.4" r="1.0"/><circle cx="264.5" cy="534.1" r="1.0"/><circle cx="290.0" cy="535.6" r="1.0"/><circle cx="300.1" cy="533.4" r="1.0"/><circle cx="313.2" cy="537.3" r="1.0"/><circle cx="340.2" cy="533.2" r="1.0"/><circle cx="352.1" cy="532.8" r="1.0"/><circle cx="374.5" cy="537.7" r="1.0"/><circle cx="403.6" cy="536.5" r="1.0"/><circle cx="422.8" cy="534.7" r="1.0"/><circle cx="438.7" cy="533.5" r="1.0"/><circle cx="459.1" cy="532.4" r="1.0"/><circle cx="469.1" cy="533.6" r="1.0"/><circle cx="493.7" cy="533.3" r="1.0"/><circle cx="502.6" cy="535.4" r="1.0"/><circle cx="518.0" cy="532.6" r="1.0"/><circle cx="543.9" cy="535.0" r="1.0"/><circle cx="560.9" cy="538.5" r="1.0"/><circle cx="83.7" cy="542.3" r="1.0"/><circle cx="103.1" cy="541.6" r="1.0"/><circle cx="142.0" cy="543.9" r="1.0"/><circle cx="156.3" cy="543.6" r="1.0"/><circle cx="185.5" cy="544.5" r="1.0"/><circle cx="211.4" cy="542.5" r="1.0"/><circle cx="221.0" cy="543.8" r="1.0"/><circle cx="252.3" cy="541.2" r="1.0"/><circle cx="279.7" cy="544.3" r="1.0"/><circle cx="323.0" cy="541.8" r="1.0"/><circle cx="362.7" cy="545.5" r="1.0"/><circle cx="376.5" cy="544.9" r="1.0"/><circle cx="412.7" cy="543.1" r="1.0"/><circle cx="425.0" cy="545.5" r="1.0"/><circle cx="440.3" cy="541.5" r="1.0"/><circle cx="463.0" cy="543.7" r="1.0"/><circle cx="480.2" cy="541.1" r="1.0"/><circle cx="495.5" cy="547.7" r="1.0"/><circle cx="517.6" cy="544.3" r="1.0"/><circle cx="527.0" cy="547.7" r="1.0"/><circle cx="544.7" cy="541.2" r="1.0"/><circle cx="566.1" cy="543.9" r="1.0"/><circle cx="82.0" cy="557.0" r="1.0"/><circle cx="91.4" cy="552.9" r="1.0"/><circle cx="116.2" cy="551.9" r="1.0"/><circle cx="133.9" cy="554.0" r="1.0"/><circle cx="153.6" cy="552.7" r="1.0"/><circle cx="161.8" cy="552.1" r="1.0"/><circle cx="179.5" cy="557.2" r="1.0"/><circle cx="195.2" cy="552.1" r="1.0"/><circle cx="218.0" cy="557.1" r="1.0"/><circle cx="245.7" cy="550.9" r="1.0"/><circle cx="321.0" cy="550.7" r="1.0"/><circle cx="333.5" cy="553.1" r="1.0"/><circle cx="348.0" cy="550.5" r="1.0"/><circle cx="367.2" cy="557.2" r="1.0"/><circle cx="391.6" cy="552.0" r="1.0"/><circle cx="406.9" cy="556.3" r="1.0"/><circle cx="414.6" cy="553.8" r="1.0"/><circle cx="442.0" cy="551.9" r="1.0"/><circle cx="458.8" cy="550.7" r="1.0"/><circle cx="474.7" cy="555.9" r="1.0"/><circle cx="540.4" cy="552.3" r="1.0"/><circle cx="553.8" cy="552.4" r="1.0"/><circle cx="91.1" cy="566.4" r="1.0"/><circle cx="110.3" cy="560.2" r="1.0"/><circle cx="137.6" cy="561.8" r="1.0"/><circle cx="155.9" cy="566.5" r="1.0"/><circle cx="176.6" cy="565.2" r="1.0"/><circle cx="193.3" cy="564.3" r="1.0"/><circle cx="204.8" cy="562.5" r="1.0"/><circle cx="218.9" cy="561.4" r="1.0"/><circle cx="238.0" cy="560.5" r="1.0"/><circle cx="279.6" cy="566.9" r="1.0"/><circle cx="287.0" cy="560.7" r="1.0"/><circle cx="311.5" cy="563.1" r="1.0"/><circle cx="325.0" cy="564.3" r="1.0"/><circle cx="346.0" cy="565.9" r="1.0"/><circle cx="355.5" cy="565.9" r="1.0"/><circle cx="377.8" cy="562.6" r="1.0"/><circle cx="390.4" cy="561.7" r="1.0"/><circle cx="406.8" cy="566.2" r="1.0"/><circle cx="445.1" cy="561.6" r="1.0"/><circle cx="463.8" cy="566.9" r="1.0"/><circle cx="478.7" cy="565.7" r="1.0"/><circle cx="501.0" cy="560.3" r="1.0"/><circle cx="531.0" cy="566.5" r="1.0"/><circle cx="551.4" cy="563.1" r="1.0"/><circle cx="567.3" cy="566.6" r="1.0"/><circle cx="81.2" cy="573.8" r="1.0"/><circle cx="95.4" cy="570.5" r="1.0"/><circle cx="111.1" cy="573.7" r="1.0"/><circle cx="127.4" cy="569.6" r="1.0"/><circle cx="150.1" cy="570.8" r="1.0"/><circle cx="161.4" cy="575.1" r="1.0"/><circle cx="176.8" cy="570.2" r="1.0"/><circle cx="199.6" cy="574.0" r="1.0"/><circle cx="212.0" cy="574.4" r="1.0"/><circle cx="247.7" cy="573.5" r="1.0"/><circle cx="282.4" cy="570.9" r="1.0"/><circle cx="317.1" cy="575.2" r="1.0"/><circle cx="339.6" cy="572.7" r="1.0"/><circle cx="346.2" cy="573.4" r="1.0"/><circle cx="373.9" cy="570.1" r="1.0"/><circle cx="384.5" cy="573.0" r="1.0"/><circle cx="415.3" cy="572.9" r="1.0"/><circle cx="442.6" cy="570.9" r="1.0"/><circle cx="459.3" cy="576.3" r="1.0"/><circle cx="465.6" cy="576.0" r="1.0"/><circle cx="492.9" cy="573.8" r="1.0"/><circle cx="500.9" cy="575.0" r="1.0"/><circle cx="520.9" cy="575.4" r="1.0"/><circle cx="535.2" cy="571.0" r="1.0"/><circle cx="556.2" cy="572.2" r="1.0"/><circle cx="99.5" cy="582.9" r="1.0"/><circle cx="116.5" cy="584.9" r="1.0"/><circle cx="140.2" cy="582.9" r="1.0"/><circle cx="153.7" cy="581.9" r="1.0"/><circle cx="172.1" cy="583.6" r="1.0"/><circle cx="189.3" cy="579.2" r="1.0"/><circle cx="206.9" cy="580.6" r="1.0"/><circle cx="227.4" cy="582.2" r="1.0"/><circle cx="240.7" cy="579.7" r="1.0"/><circle cx="257.2" cy="579.6" r="1.0"/><circle cx="275.1" cy="579.3" r="1.0"/><circle cx="287.0" cy="584.1" r="1.0"/><circle cx="309.1" cy="579.4" r="1.0"/><circle cx="324.5" cy="585.7" r="1.0"/><circle cx="347.3" cy="586.0" r="1.0"/><circle cx="405.8" cy="581.5" r="1.0"/><circle cx="423.9" cy="585.3" r="1.0"/><circle cx="448.8" cy="580.0" r="1.0"/><circle cx="467.0" cy="580.5" r="1.0"/><circle cx="479.1" cy="581.2" r="1.0"/><circle cx="515.2" cy="585.3" r="1.0"/><circle cx="533.4" cy="579.8" r="1.0"/><circle cx="75.3" cy="595.5" r="1.0"/><circle cx="95.7" cy="594.1" r="1.0"/><circle cx="119.9" cy="592.5" r="1.0"/><circle cx="134.2" cy="591.6" r="1.0"/><circle cx="150.9" cy="588.8" r="1.0"/><circle cx="183.0" cy="593.1" r="1.0"/><circle cx="193.0" cy="588.7" r="1.0"/><circle cx="217.4" cy="591.5" r="1.0"/><circle cx="237.7" cy="589.4" r="1.0"/><circle cx="251.8" cy="588.7" r="1.0"/><circle cx="265.3" cy="589.2" r="1.0"/><circle cx="280.7" cy="592.6" r="1.0"/><circle cx="297.5" cy="592.9" r="1.0"/><circle cx="313.6" cy="595.1" r="1.0"/><circle cx="330.8" cy="589.2" r="1.0"/><circle cx="356.5" cy="594.0" r="1.0"/><circle cx="366.2" cy="588.6" r="1.0"/><circle cx="386.7" cy="591.0" r="1.0"/><circle cx="402.3" cy="595.1" r="1.0"/><circle cx="417.0" cy="594.8" r="1.0"/><circle cx="437.4" cy="591.3" r="1.0"/><circle cx="448.7" cy="594.0" r="1.0"/><circle cx="471.6" cy="595.1" r="1.0"/><circle cx="484.4" cy="592.8" r="1.0"/><circle cx="506.7" cy="594.2" r="1.0"/><circle cx="519.7" cy="590.6" r="1.0"/><circle cx="543.7" cy="594.0" r="1.0"/><circle cx="550.1" cy="594.4" r="1.0"/></g>
<path d="M85.0,497.5 L337.5,384.7 L562.0,497.5 L494.0,534.5 Q324.9,425.5 155.8,532.5 Z" fill="#000" opacity="0.2" filter="url(#sh)"/>
<path d="M85.0,489.0 L85.0,497.5 L155.8,532.5 Q324.9,425.5 494.0,534.5 L562.0,497.5 L562.0,489.0 L494.0,526.0 Q324.9,417.0 155.8,524.0 Z" fill="#cc5c55"/>
<path d="M85.0,489.0 L337.5,376.2 L562.0,489.0 L494.0,526.0 Q324.9,417.0 155.8,524.0 Z" fill="#e07a72"/>
<path d="M85.0,450.0 L334.4,338.6 L563.0,453.5 L504.0,481.0 Q325.0,365.5 146.0,480.0 Z" fill="#000" opacity="0.2" filter="url(#sh)"/>
<path d="M85.0,446.0 L85.0,450.0 L146.0,480.0 Q325.0,365.5 504.0,481.0 L563.0,453.5 L563.0,449.5 L504.0,477.0 Q325.0,361.5 146.0,476.0 Z" fill="#dda332"/>
<path d="M85.0,446.0 L334.4,334.6 L563.0,449.5 L504.0,477.0 Q325.0,361.5 146.0,476.0 Z" fill="#f0c24e"/>
<path d="M84.5,400.5 L328.6,291.5 L562.5,409.0 L508.5,433.5 Q325.2,312.5 142.0,431.5 Z" fill="#000" opacity="0.2" filter="url(#sh)"/>
<path d="M84.5,398.0 L84.5,400.5 L142.0,431.5 Q325.2,312.5 508.5,433.5 L562.5,409.0 L562.5,406.5 L508.5,431.0 Q325.2,310.0 142.0,429.0 Z" fill="#86c3a3"/>
<path d="M84.5,398.0 L328.6,289.0 L562.5,406.5 L508.5,431.0 Q325.2,310.0 142.0,429.0 Z" fill="#a9e2c3"/>
<g font-family="Liberation Sans, sans-serif">
<polyline points="637.5,346.5 610.5,406.0 581,406.0" fill="none" stroke="#575757" stroke-width="1.75"/>
<circle cx="581" cy="406.0" r="4.6" fill="#555"/>
<path d="M637.5,328.5 A18,18 0 1 1 655.5,346.5 L637.5,346.5 Z" fill="#a8dfc0"/>
<circle cx="655.5" cy="328.5" r="14" fill="#fff"/>
<text x="655.5" y="336.6" text-anchor="middle" font-size="22.5" fill="#3a3a3a">1</text>
<text x="677.6" y="322.5" font-size="22.3" fill="#454545">Premium Belgium</text>
<text x="677.6" y="348" font-size="22.3" fill="#454545">knitted fabric</text>
<polyline points="637.5,403.5 610.5,450.5 581,450.5" fill="none" stroke="#575757" stroke-width="1.75"/>
<circle cx="581" cy="450.5" r="4.6" fill="#555"/>
<path d="M637.5,385.5 A18,18 0 1 1 655.5,403.5 L637.5,403.5 Z" fill="#efc24a"/>
<circle cx="655.5" cy="385.5" r="14" fill="#fff"/>
<text x="655.5" y="393.6" text-anchor="middle" font-size="22.5" fill="#3a3a3a">2</text>
<text x="678.7" y="391.7" font-size="22.3" fill="#454545">Polyester fibre</text>
<polyline points="637.5,447.0 610.5,493.0 581,493.0" fill="none" stroke="#575757" stroke-width="1.75"/>
<circle cx="581" cy="493.0" r="4.6" fill="#555"/>
<path d="M637.5,429.0 A18,18 0 1 1 655.5,447.0 L637.5,447.0 Z" fill="#dd7a74"/>
<circle cx="655.5" cy="429.0" r="14" fill="#fff"/>
<text x="655.5" y="437.1" text-anchor="middle" font-size="22.5" fill="#3a3a3a">3</text>
<text x="680.0" y="437.7" font-size="22.3" fill="#454545">Quality egg foam</text>
<polyline points="637.5,493.0 610.5,540.5 581,540.5" fill="none" stroke="#575757" stroke-width="1.75"/>
<circle cx="581" cy="540.5" r="4.6" fill="#555"/>
<path d="M637.5,475.0 A18,18 0 1 1 655.5,493.0 L637.5,493.0 Z" fill="#d2d2d2"/>
<circle cx="655.5" cy="475.0" r="14" fill="#fff"/>
<text x="655.5" y="483.1" text-anchor="middle" font-size="22.5" fill="#3a3a3a">4</text>
<text x="680.0" y="486.5" font-size="22.3" fill="#454545">Deluxe support foam</text>
<polyline points="637.5,545.8 610.5,591.0 581,591.0" fill="none" stroke="#575757" stroke-width="1.75"/>
<circle cx="581" cy="591.0" r="4.6" fill="#555"/>
<path d="M637.5,527.8 A18,18 0 1 1 655.5,545.8 L637.5,545.8 Z" fill="#a9d3e8"/>
<circle cx="655.5" cy="527.8" r="14" fill="#fff"/>
<text x="655.5" y="535.9" text-anchor="middle" font-size="22.5" fill="#3a3a3a">5</text>
<text x="678.7" y="536.8" font-size="22.3" fill="#454545">Non-woven fabric</text>
<polyline points="637.5,590.8 610.5,634.5 581,634.5" fill="none" stroke="#575757" stroke-width="1.75"/>
<circle cx="581" cy="634.5" r="4.6" fill="#555"/>
<path d="M637.5,572.8 A18,18 0 1 1 655.5,590.8 L637.5,590.8 Z" fill="#dd7a74"/>
<circle cx="655.5" cy="572.8" r="14" fill="#fff"/>
<text x="655.5" y="580.9" text-anchor="middle" font-size="22.5" fill="#3a3a3a">6</text>
<text x="678.2" y="578.5" font-size="22.3" fill="#454545">Quality egg foam</text>
<polyline points="637.5,640.2 610.5,688.5 581,688.5" fill="none" stroke="#575757" stroke-width="1.75"/>
<circle cx="581" cy="688.5" r="4.6" fill="#555"/>
<path d="M637.5,622.2 A18,18 0 1 1 655.5,640.2 L637.5,640.2 Z" fill="#e8b373"/>
<circle cx="655.5" cy="622.2" r="14" fill="#fff"/>
<text x="655.5" y="630.4" text-anchor="middle" font-size="22.5" fill="#3a3a3a">7</text>
<text x="680.0" y="630" font-size="22.3" fill="#454545">Premium cotton felt</text>
<polyline points="637.5,698.5 610.5,748.5 581,748.5" fill="none" stroke="#575757" stroke-width="1.75"/>
<circle cx="581" cy="748.5" r="4.6" fill="#555"/>
<path d="M637.5,680.5 A18,18 0 1 1 655.5,698.5 L637.5,698.5 Z" fill="#3e7f86"/>
<circle cx="655.5" cy="680.5" r="14" fill="#fff"/>
<text x="655.5" y="688.6" text-anchor="middle" font-size="22.5" fill="#3a3a3a">8</text>
<text x="679.4" y="690" font-size="22.3" fill="#454545">Independent pocket springs</text>
<polyline points="637.5,788.2 610.5,831.0 581,831.0" fill="none" stroke="#575757" stroke-width="1.75"/>
<circle cx="581" cy="831.0" r="4.6" fill="#555"/>
<path d="M637.5,770.2 A18,18 0 1 1 655.5,788.2 L637.5,788.2 Z" fill="#e8b373"/>
<circle cx="655.5" cy="770.2" r="14" fill="#fff"/>
<text x="655.5" y="778.4" text-anchor="middle" font-size="22.5" fill="#3a3a3a">9</text>
<text x="678.7" y="779.8" font-size="22.3" fill="#454545">Premium cotton felt</text>
<polyline points="637.5,837.8 610.5,882.8 581,882.8" fill="none" stroke="#575757" stroke-width="1.75"/>
<circle cx="581" cy="882.8" r="4.6" fill="#555"/>
<path d="M637.5,819.8 A18,18 0 1 1 655.5,837.8 L637.5,837.8 Z" fill="#a9d3e8"/>
<circle cx="655.5" cy="819.8" r="14" fill="#fff"/>
<text x="655.5" y="827.4" text-anchor="middle" font-size="21" fill="#3a3a3a" textLength="22" lengthAdjust="spacingAndGlyphs">10</text>
<text x="678.7" y="828.1" font-size="22.3" fill="#454545">Non-woven fabric</text>
</g>
</svg>
</body></html>
